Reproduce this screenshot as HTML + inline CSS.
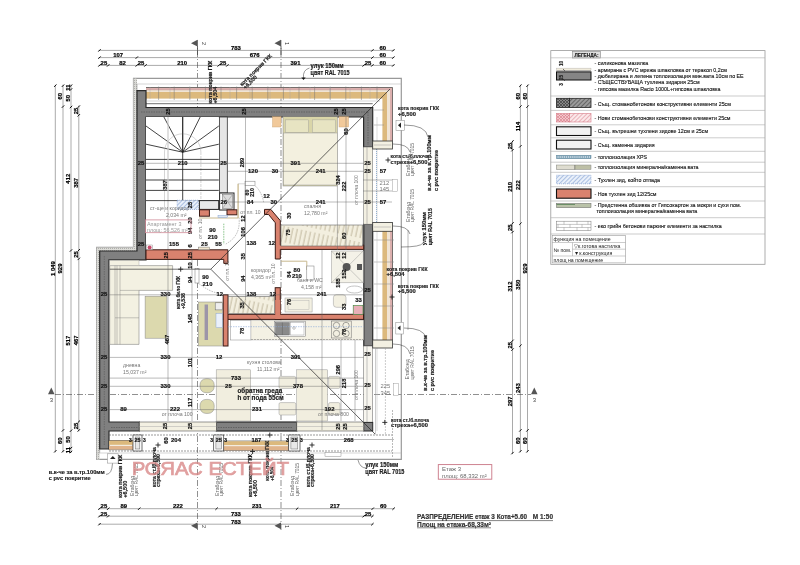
<!DOCTYPE html><html><head><meta charset="utf-8"><style>html,body{margin:0;padding:0;background:#fff;width:800px;height:565px;overflow:hidden}</style></head><body><svg width="800" height="565" viewBox="0 0 800 565" style="display:block;filter:blur(0.3px);font-family:'Liberation Sans',sans-serif">
<rect x="0.0" y="0.0" width="800.0" height="565.0" fill="#fff" stroke="none" stroke-width="1" />
<line x1="98.5" y1="50.4" x2="394.3" y2="50.4" stroke="#555" stroke-width="0.5" />
<line x1="98.3" y1="51.6" x2="100.7" y2="49.2" stroke="#111" stroke-width="1.0" />
<line x1="371.2" y1="51.6" x2="373.6" y2="49.2" stroke="#111" stroke-width="1.0" />
<line x1="392.1" y1="51.6" x2="394.5" y2="49.2" stroke="#111" stroke-width="1.0" />
<text x="235.9" y="49.7" font-size="5.9" fill="#000" font-weight="bold" text-anchor="middle" stroke="#000" stroke-width="0.2">783</text>
<text x="382.8" y="49.7" font-size="5.9" fill="#000" font-weight="bold" text-anchor="middle" stroke="#000" stroke-width="0.2">60</text>
<line x1="98.5" y1="57.6" x2="394.3" y2="57.6" stroke="#555" stroke-width="0.5" />
<line x1="98.3" y1="58.8" x2="100.7" y2="56.4" stroke="#111" stroke-width="1.0" />
<line x1="135.6" y1="58.8" x2="138.0" y2="56.4" stroke="#111" stroke-width="1.0" />
<line x1="371.2" y1="58.8" x2="373.6" y2="56.4" stroke="#111" stroke-width="1.0" />
<line x1="392.1" y1="58.8" x2="394.5" y2="56.4" stroke="#111" stroke-width="1.0" />
<text x="118.1" y="56.9" font-size="5.9" fill="#000" font-weight="bold" text-anchor="middle" stroke="#000" stroke-width="0.2">107</text>
<text x="254.6" y="56.9" font-size="5.9" fill="#000" font-weight="bold" text-anchor="middle" stroke="#000" stroke-width="0.2">676</text>
<text x="382.8" y="56.9" font-size="5.9" fill="#000" font-weight="bold" text-anchor="middle" stroke="#000" stroke-width="0.2">60</text>
<line x1="98.5" y1="65.4" x2="394.3" y2="65.4" stroke="#555" stroke-width="0.5" />
<line x1="98.3" y1="66.6" x2="100.7" y2="64.2" stroke="#111" stroke-width="1.0" />
<line x1="107.0" y1="66.6" x2="109.4" y2="64.2" stroke="#111" stroke-width="1.0" />
<line x1="135.6" y1="66.6" x2="138.0" y2="64.2" stroke="#111" stroke-width="1.0" />
<line x1="144.3" y1="66.6" x2="146.7" y2="64.2" stroke="#111" stroke-width="1.0" />
<line x1="217.5" y1="66.6" x2="219.9" y2="64.2" stroke="#111" stroke-width="1.0" />
<line x1="226.2" y1="66.6" x2="228.6" y2="64.2" stroke="#111" stroke-width="1.0" />
<line x1="362.5" y1="66.6" x2="364.9" y2="64.2" stroke="#111" stroke-width="1.0" />
<line x1="371.2" y1="66.6" x2="373.6" y2="64.2" stroke="#111" stroke-width="1.0" />
<line x1="392.1" y1="66.6" x2="394.5" y2="64.2" stroke="#111" stroke-width="1.0" />
<text x="103.9" y="64.7" font-size="5.9" fill="#000" font-weight="bold" text-anchor="middle" stroke="#000" stroke-width="0.2">25</text>
<text x="122.5" y="64.7" font-size="5.9" fill="#000" font-weight="bold" text-anchor="middle" stroke="#000" stroke-width="0.2">82</text>
<text x="141.1" y="64.7" font-size="5.9" fill="#000" font-weight="bold" text-anchor="middle" stroke="#000" stroke-width="0.2">25</text>
<text x="182.1" y="64.7" font-size="5.9" fill="#000" font-weight="bold" text-anchor="middle" stroke="#000" stroke-width="0.2">210</text>
<text x="223.0" y="64.7" font-size="5.9" fill="#000" font-weight="bold" text-anchor="middle" stroke="#000" stroke-width="0.2">25</text>
<text x="295.5" y="64.7" font-size="5.9" fill="#000" font-weight="bold" text-anchor="middle" stroke="#000" stroke-width="0.2">391</text>
<text x="368.0" y="64.7" font-size="5.9" fill="#000" font-weight="bold" text-anchor="middle" stroke="#000" stroke-width="0.2">25</text>
<text x="382.8" y="64.7" font-size="5.9" fill="#000" font-weight="bold" text-anchor="middle" stroke="#000" stroke-width="0.2">60</text>
<line x1="98.5" y1="508.7" x2="394.6" y2="508.7" stroke="#555" stroke-width="0.5" />
<line x1="98.3" y1="509.9" x2="100.7" y2="507.5" stroke="#111" stroke-width="1.0" />
<line x1="107.0" y1="509.9" x2="109.4" y2="507.5" stroke="#111" stroke-width="1.0" />
<line x1="138.0" y1="509.9" x2="140.4" y2="507.5" stroke="#111" stroke-width="1.0" />
<line x1="215.4" y1="509.9" x2="217.8" y2="507.5" stroke="#111" stroke-width="1.0" />
<line x1="295.9" y1="509.9" x2="298.3" y2="507.5" stroke="#111" stroke-width="1.0" />
<line x1="371.5" y1="509.9" x2="373.9" y2="507.5" stroke="#111" stroke-width="1.0" />
<line x1="392.4" y1="509.9" x2="394.8" y2="507.5" stroke="#111" stroke-width="1.0" />
<text x="103.9" y="508.0" font-size="5.9" fill="#000" font-weight="bold" text-anchor="middle" stroke="#000" stroke-width="0.2">25</text>
<text x="123.7" y="508.0" font-size="5.9" fill="#000" font-weight="bold" text-anchor="middle" stroke="#000" stroke-width="0.2">89</text>
<text x="177.9" y="508.0" font-size="5.9" fill="#000" font-weight="bold" text-anchor="middle" stroke="#000" stroke-width="0.2">222</text>
<text x="256.8" y="508.0" font-size="5.9" fill="#000" font-weight="bold" text-anchor="middle" stroke="#000" stroke-width="0.2">231</text>
<text x="334.9" y="508.0" font-size="5.9" fill="#000" font-weight="bold" text-anchor="middle" stroke="#000" stroke-width="0.2">217</text>
<text x="383.2" y="508.0" font-size="5.9" fill="#000" font-weight="bold" text-anchor="middle" stroke="#000" stroke-width="0.2">60</text>
<line x1="98.5" y1="516.2" x2="373.4" y2="516.2" stroke="#555" stroke-width="0.5" />
<line x1="98.3" y1="517.4" x2="100.7" y2="515.0" stroke="#111" stroke-width="1.0" />
<line x1="107.0" y1="517.4" x2="109.4" y2="515.0" stroke="#111" stroke-width="1.0" />
<line x1="362.5" y1="517.4" x2="364.9" y2="515.0" stroke="#111" stroke-width="1.0" />
<line x1="371.2" y1="517.4" x2="373.6" y2="515.0" stroke="#111" stroke-width="1.0" />
<text x="103.9" y="515.5" font-size="5.9" fill="#000" font-weight="bold" text-anchor="middle" stroke="#000" stroke-width="0.2">25</text>
<text x="235.9" y="515.5" font-size="5.9" fill="#000" font-weight="bold" text-anchor="middle" stroke="#000" stroke-width="0.2">733</text>
<text x="368.0" y="515.5" font-size="5.9" fill="#000" font-weight="bold" text-anchor="middle" stroke="#000" stroke-width="0.2">25</text>
<line x1="98.5" y1="524.2" x2="373.4" y2="524.2" stroke="#555" stroke-width="0.5" />
<line x1="98.3" y1="525.4" x2="100.7" y2="523.0" stroke="#111" stroke-width="1.0" />
<line x1="371.2" y1="525.4" x2="373.6" y2="523.0" stroke="#111" stroke-width="1.0" />
<text x="235.9" y="523.5" font-size="5.9" fill="#000" font-weight="bold" text-anchor="middle" stroke="#000" stroke-width="0.2">783</text>
<line x1="55.3" y1="84.7" x2="55.3" y2="452.3" stroke="#555" stroke-width="0.5" />
<line x1="54.1" y1="86.9" x2="56.5" y2="84.5" stroke="#111" stroke-width="1.0" />
<line x1="54.1" y1="452.5" x2="56.5" y2="450.1" stroke="#111" stroke-width="1.0" />
<text x="54.6" y="268.5" font-size="5.9" fill="#000" font-weight="bold" text-anchor="middle" transform="rotate(-90 54.6 268.5)" stroke="#000" stroke-width="0.2">1 049</text>
<line x1="63.0" y1="84.7" x2="63.0" y2="452.3" stroke="#555" stroke-width="0.5" />
<line x1="61.8" y1="86.9" x2="64.2" y2="84.5" stroke="#111" stroke-width="1.0" />
<line x1="61.8" y1="107.8" x2="64.2" y2="105.4" stroke="#111" stroke-width="1.0" />
<line x1="61.8" y1="431.6" x2="64.2" y2="429.2" stroke="#111" stroke-width="1.0" />
<line x1="61.8" y1="452.5" x2="64.2" y2="450.1" stroke="#111" stroke-width="1.0" />
<text x="62.3" y="96.2" font-size="5.9" fill="#000" font-weight="bold" text-anchor="middle" transform="rotate(-90 62.3 96.2)" stroke="#000" stroke-width="0.2">60</text>
<text x="62.3" y="268.5" font-size="5.9" fill="#000" font-weight="bold" text-anchor="middle" transform="rotate(-90 62.3 268.5)" stroke="#000" stroke-width="0.2">929</text>
<text x="62.3" y="440.8" font-size="5.9" fill="#000" font-weight="bold" text-anchor="middle" transform="rotate(-90 62.3 440.8)" stroke="#000" stroke-width="0.2">60</text>
<line x1="71.0" y1="84.7" x2="71.0" y2="453.0" stroke="#555" stroke-width="0.5" />
<line x1="69.8" y1="86.9" x2="72.2" y2="84.5" stroke="#111" stroke-width="1.0" />
<line x1="69.8" y1="90.7" x2="72.2" y2="88.3" stroke="#111" stroke-width="1.0" />
<line x1="69.8" y1="108.2" x2="72.2" y2="105.8" stroke="#111" stroke-width="1.0" />
<line x1="69.8" y1="251.7" x2="72.2" y2="249.3" stroke="#111" stroke-width="1.0" />
<line x1="69.8" y1="431.9" x2="72.2" y2="429.5" stroke="#111" stroke-width="1.0" />
<line x1="69.8" y1="449.3" x2="72.2" y2="446.9" stroke="#111" stroke-width="1.0" />
<line x1="69.8" y1="453.2" x2="72.2" y2="450.8" stroke="#111" stroke-width="1.0" />
<text x="70.3" y="87.6" font-size="5.9" fill="#000" font-weight="bold" text-anchor="middle" transform="rotate(-90 70.3 87.6)" stroke="#000" stroke-width="0.2">11</text>
<text x="70.3" y="98.2" font-size="5.9" fill="#000" font-weight="bold" text-anchor="middle" transform="rotate(-90 70.3 98.2)" stroke="#000" stroke-width="0.2">50</text>
<text x="70.3" y="178.7" font-size="5.9" fill="#000" font-weight="bold" text-anchor="middle" transform="rotate(-90 70.3 178.7)" stroke="#000" stroke-width="0.2">412</text>
<text x="70.3" y="340.6" font-size="5.9" fill="#000" font-weight="bold" text-anchor="middle" transform="rotate(-90 70.3 340.6)" stroke="#000" stroke-width="0.2">517</text>
<text x="70.3" y="439.4" font-size="5.9" fill="#000" font-weight="bold" text-anchor="middle" transform="rotate(-90 70.3 439.4)" stroke="#000" stroke-width="0.2">50</text>
<text x="70.3" y="450.1" font-size="5.9" fill="#000" font-weight="bold" text-anchor="middle" transform="rotate(-90 70.3 450.1)" stroke="#000" stroke-width="0.2">11</text>
<line x1="78.8" y1="105.6" x2="78.8" y2="431.4" stroke="#555" stroke-width="0.5" />
<line x1="77.6" y1="107.8" x2="80.0" y2="105.4" stroke="#111" stroke-width="1.0" />
<line x1="77.6" y1="116.5" x2="80.0" y2="114.1" stroke="#111" stroke-width="1.0" />
<line x1="77.6" y1="251.4" x2="80.0" y2="249.0" stroke="#111" stroke-width="1.0" />
<line x1="77.6" y1="260.1" x2="80.0" y2="257.7" stroke="#111" stroke-width="1.0" />
<line x1="77.6" y1="422.9" x2="80.0" y2="420.5" stroke="#111" stroke-width="1.0" />
<line x1="77.6" y1="431.6" x2="80.0" y2="429.2" stroke="#111" stroke-width="1.0" />
<text x="78.1" y="111.0" font-size="5.9" fill="#000" font-weight="bold" text-anchor="middle" transform="rotate(-90 78.1 111.0)" stroke="#000" stroke-width="0.2">25</text>
<text x="78.1" y="182.8" font-size="5.9" fill="#000" font-weight="bold" text-anchor="middle" transform="rotate(-90 78.1 182.8)" stroke="#000" stroke-width="0.2">387</text>
<text x="78.1" y="254.5" font-size="5.9" fill="#000" font-weight="bold" text-anchor="middle" transform="rotate(-90 78.1 254.5)" stroke="#000" stroke-width="0.2">25</text>
<text x="78.1" y="340.3" font-size="5.9" fill="#000" font-weight="bold" text-anchor="middle" transform="rotate(-90 78.1 340.3)" stroke="#000" stroke-width="0.2">467</text>
<text x="78.1" y="426.0" font-size="5.9" fill="#000" font-weight="bold" text-anchor="middle" transform="rotate(-90 78.1 426.0)" stroke="#000" stroke-width="0.2">25</text>
<line x1="527.5" y1="84.7" x2="527.5" y2="452.3" stroke="#555" stroke-width="0.5" />
<line x1="526.3" y1="86.9" x2="528.7" y2="84.5" stroke="#111" stroke-width="1.0" />
<line x1="526.3" y1="107.8" x2="528.7" y2="105.4" stroke="#111" stroke-width="1.0" />
<line x1="526.3" y1="431.6" x2="528.7" y2="429.2" stroke="#111" stroke-width="1.0" />
<line x1="526.3" y1="452.5" x2="528.7" y2="450.1" stroke="#111" stroke-width="1.0" />
<text x="526.8" y="96.2" font-size="5.9" fill="#000" font-weight="bold" text-anchor="middle" transform="rotate(-90 526.8 96.2)" stroke="#000" stroke-width="0.2">60</text>
<text x="526.8" y="268.5" font-size="5.9" fill="#000" font-weight="bold" text-anchor="middle" transform="rotate(-90 526.8 268.5)" stroke="#000" stroke-width="0.2">929</text>
<text x="526.8" y="440.8" font-size="5.9" fill="#000" font-weight="bold" text-anchor="middle" transform="rotate(-90 526.8 440.8)" stroke="#000" stroke-width="0.2">60</text>
<line x1="520.4" y1="84.7" x2="520.4" y2="452.3" stroke="#555" stroke-width="0.5" />
<line x1="519.2" y1="86.9" x2="521.6" y2="84.5" stroke="#111" stroke-width="1.0" />
<line x1="519.2" y1="107.8" x2="521.6" y2="105.4" stroke="#111" stroke-width="1.0" />
<line x1="519.2" y1="147.5" x2="521.6" y2="145.1" stroke="#111" stroke-width="1.0" />
<line x1="519.2" y1="224.9" x2="521.6" y2="222.5" stroke="#111" stroke-width="1.0" />
<line x1="519.2" y1="346.9" x2="521.6" y2="344.5" stroke="#111" stroke-width="1.0" />
<line x1="519.2" y1="431.6" x2="521.6" y2="429.2" stroke="#111" stroke-width="1.0" />
<line x1="519.2" y1="452.5" x2="521.6" y2="450.1" stroke="#111" stroke-width="1.0" />
<text x="519.7" y="96.2" font-size="5.9" fill="#000" font-weight="bold" text-anchor="middle" transform="rotate(-90 519.7 96.2)" stroke="#000" stroke-width="0.2">60</text>
<text x="519.7" y="126.5" font-size="5.9" fill="#000" font-weight="bold" text-anchor="middle" transform="rotate(-90 519.7 126.5)" stroke="#000" stroke-width="0.2">114</text>
<text x="519.7" y="185.0" font-size="5.9" fill="#000" font-weight="bold" text-anchor="middle" transform="rotate(-90 519.7 185.0)" stroke="#000" stroke-width="0.2">222</text>
<text x="519.7" y="284.7" font-size="5.9" fill="#000" font-weight="bold" text-anchor="middle" transform="rotate(-90 519.7 284.7)" stroke="#000" stroke-width="0.2">350</text>
<text x="519.7" y="388.0" font-size="5.9" fill="#000" font-weight="bold" text-anchor="middle" transform="rotate(-90 519.7 388.0)" stroke="#000" stroke-width="0.2">243</text>
<text x="519.7" y="440.8" font-size="5.9" fill="#000" font-weight="bold" text-anchor="middle" transform="rotate(-90 519.7 440.8)" stroke="#000" stroke-width="0.2">60</text>
<line x1="512.5" y1="140.5" x2="512.5" y2="454.1" stroke="#555" stroke-width="0.5" />
<line x1="511.3" y1="142.7" x2="513.7" y2="140.3" stroke="#111" stroke-width="1.0" />
<line x1="511.3" y1="151.4" x2="513.7" y2="149.0" stroke="#111" stroke-width="1.0" />
<line x1="511.3" y1="224.6" x2="513.7" y2="222.2" stroke="#111" stroke-width="1.0" />
<line x1="511.3" y1="233.3" x2="513.7" y2="230.9" stroke="#111" stroke-width="1.0" />
<line x1="511.3" y1="342.0" x2="513.7" y2="339.6" stroke="#111" stroke-width="1.0" />
<line x1="511.3" y1="350.8" x2="513.7" y2="348.4" stroke="#111" stroke-width="1.0" />
<line x1="511.3" y1="454.3" x2="513.7" y2="451.9" stroke="#111" stroke-width="1.0" />
<text x="511.8" y="145.9" font-size="5.9" fill="#000" font-weight="bold" text-anchor="middle" transform="rotate(-90 511.8 145.9)" stroke="#000" stroke-width="0.2">25</text>
<text x="511.8" y="186.8" font-size="5.9" fill="#000" font-weight="bold" text-anchor="middle" transform="rotate(-90 511.8 186.8)" stroke="#000" stroke-width="0.2">210</text>
<text x="511.8" y="227.8" font-size="5.9" fill="#000" font-weight="bold" text-anchor="middle" transform="rotate(-90 511.8 227.8)" stroke="#000" stroke-width="0.2">25</text>
<text x="511.8" y="286.5" font-size="5.9" fill="#000" font-weight="bold" text-anchor="middle" transform="rotate(-90 511.8 286.5)" stroke="#000" stroke-width="0.2">312</text>
<text x="511.8" y="345.2" font-size="5.9" fill="#000" font-weight="bold" text-anchor="middle" transform="rotate(-90 511.8 345.2)" stroke="#000" stroke-width="0.2">25</text>
<text x="511.8" y="401.3" font-size="5.9" fill="#000" font-weight="bold" text-anchor="middle" transform="rotate(-90 511.8 401.3)" stroke="#000" stroke-width="0.2">297</text>
<line x1="197.5" y1="40.0" x2="197.5" y2="530.0" stroke="#444" stroke-width="0.6" stroke-dasharray="6,2,1,2"/>
<polygon points="191.0,43.2 197.5,39.8 197.5,46.6" fill="#555" stroke="none" stroke-width="1" />
<polygon points="191.0,525.8 197.5,522.4 197.5,529.2" fill="#555" stroke="none" stroke-width="1" />
<line x1="197.5" y1="46.0" x2="197.5" y2="55.0" stroke="#444" stroke-width="0.8" />
<line x1="281.0" y1="40.0" x2="281.0" y2="530.0" stroke="#444" stroke-width="0.6" stroke-dasharray="6,2,1,2"/>
<polygon points="274.5,43.2 281.0,39.8 281.0,46.6" fill="#555" stroke="none" stroke-width="1" />
<polygon points="274.5,525.8 281.0,522.4 281.0,529.2" fill="#555" stroke="none" stroke-width="1" />
<line x1="281.0" y1="46.0" x2="281.0" y2="55.0" stroke="#444" stroke-width="0.8" />
<line x1="55.0" y1="394.5" x2="531.0" y2="394.5" stroke="#444" stroke-width="0.6" stroke-dasharray="6,2,1,2"/>
<polygon points="48.0,394.3 51.3,387.5 54.5,394.3" fill="#555" stroke="none" stroke-width="1" />
<polygon points="531.0,394.3 534.3,387.5 537.5,394.3" fill="#555" stroke="none" stroke-width="1" />
<text x="201.5" y="43.5" font-size="5.5" fill="#333" font-weight="normal" text-anchor="middle" transform="rotate(90 201.5 43.5)" >2</text>
<text x="201.5" y="526.5" font-size="5.5" fill="#333" font-weight="normal" text-anchor="middle" transform="rotate(90 201.5 526.5)" >2</text>
<text x="285.0" y="43.5" font-size="5.5" fill="#333" font-weight="normal" text-anchor="middle" transform="rotate(90 285.0 43.5)" >1</text>
<text x="285.0" y="526.5" font-size="5.5" fill="#333" font-weight="normal" text-anchor="middle" transform="rotate(90 285.0 526.5)" >1</text>
<text x="51.3" y="401.5" font-size="6" fill="#444" font-weight="normal" text-anchor="middle" >3</text>
<text x="534.3" y="401.5" font-size="6" fill="#444" font-weight="normal" text-anchor="middle" >3</text>
<polyline points="133.5,247.4 133.5,78.4 401.3,78.4 401.3,459.4 96.7,459.4 96.7,247.4 133.5,247.4" fill="none" stroke="#999" stroke-width="1.2" />
<defs><pattern id="dt" width="2" height="2" patternUnits="userSpaceOnUse"><rect width="2" height="2" fill="#dcdcd8"/><rect width="1" height="1" fill="#b0b0ac"/></pattern></defs>
<polygon points="133.5,78.4 137.0,78.4 137.0,251.0 99.7,251.0 99.7,459.4 96.7,459.4 96.7,247.4 133.5,247.4" fill="url(#dt)" stroke="none" stroke-width="1" />
<line x1="137.0" y1="84.0" x2="137.0" y2="251.0" stroke="#777" stroke-width="0.5" />
<line x1="99.7" y1="251.0" x2="99.7" y2="453.0" stroke="#777" stroke-width="0.5" />
<polygon points="146.0,87.5 392.5,87.5 392.5,141.0 382.5,141.0 382.5,98.4 146.0,98.4" fill="#f0e4d4" stroke="none" stroke-width="1" />
<polygon points="146.0,87.5 392.5,87.5 392.5,141.0 390.0,141.0 390.0,90.0 146.0,90.0" fill="#dcb0ae" stroke="none" stroke-width="1" />
<polygon points="146.0,92.0 387.0,92.0 387.0,141.0 382.5,141.0 382.5,98.4 146.0,98.4" fill="#dcb97d" stroke="none" stroke-width="1" />
<polyline points="146.0,87.5 392.5,87.5 392.5,141.0" fill="none" stroke="#444" stroke-width="0.7" />
<line x1="146.0" y1="90.0" x2="390.0" y2="90.0" stroke="#a88" stroke-width="0.3" />
<rect x="382.5" y="231.0" width="10.0" height="109.0" fill="#f0e4d4" stroke="none" stroke-width="1" />
<rect x="390.0" y="231.0" width="2.5" height="109.0" fill="#dcb0ae" stroke="none" stroke-width="1" />
<rect x="382.5" y="231.0" width="4.5" height="109.0" fill="#dcb97d" stroke="none" stroke-width="1" />
<line x1="392.5" y1="231.0" x2="392.5" y2="340.0" stroke="#444" stroke-width="0.7" />
<line x1="158.6" y1="86.5" x2="158.6" y2="100.0" stroke="#777" stroke-width="0.5" />
<line x1="174.2" y1="86.5" x2="174.2" y2="100.0" stroke="#777" stroke-width="0.5" />
<line x1="189.8" y1="86.5" x2="189.8" y2="100.0" stroke="#777" stroke-width="0.5" />
<line x1="205.4" y1="86.5" x2="205.4" y2="100.0" stroke="#777" stroke-width="0.5" />
<line x1="221.0" y1="86.5" x2="221.0" y2="100.0" stroke="#777" stroke-width="0.5" />
<line x1="236.6" y1="86.5" x2="236.6" y2="100.0" stroke="#777" stroke-width="0.5" />
<line x1="252.2" y1="86.5" x2="252.2" y2="100.0" stroke="#777" stroke-width="0.5" />
<line x1="267.8" y1="86.5" x2="267.8" y2="100.0" stroke="#777" stroke-width="0.5" />
<line x1="283.4" y1="86.5" x2="283.4" y2="100.0" stroke="#777" stroke-width="0.5" />
<line x1="299.0" y1="86.5" x2="299.0" y2="100.0" stroke="#777" stroke-width="0.5" />
<line x1="314.6" y1="86.5" x2="314.6" y2="100.0" stroke="#777" stroke-width="0.5" />
<line x1="330.2" y1="86.5" x2="330.2" y2="100.0" stroke="#777" stroke-width="0.5" />
<line x1="345.8" y1="86.5" x2="345.8" y2="100.0" stroke="#777" stroke-width="0.5" />
<line x1="361.4" y1="86.5" x2="361.4" y2="100.0" stroke="#777" stroke-width="0.5" />
<line x1="377.0" y1="86.5" x2="377.0" y2="100.0" stroke="#777" stroke-width="0.5" />
<line x1="374.0" y1="110.0" x2="384.0" y2="110.0" stroke="#888" stroke-width="0.5" />
<line x1="374.0" y1="125.0" x2="384.0" y2="125.0" stroke="#888" stroke-width="0.5" />
<line x1="374.0" y1="240.0" x2="394.0" y2="240.0" stroke="#888" stroke-width="0.5" />
<line x1="374.0" y1="262.0" x2="394.0" y2="262.0" stroke="#888" stroke-width="0.5" />
<line x1="374.0" y1="284.0" x2="394.0" y2="284.0" stroke="#888" stroke-width="0.5" />
<line x1="374.0" y1="306.0" x2="394.0" y2="306.0" stroke="#888" stroke-width="0.5" />
<line x1="374.0" y1="328.0" x2="394.0" y2="328.0" stroke="#888" stroke-width="0.5" />
<rect x="396.0" y="120.3" width="8.5" height="10.0" fill="#fff" stroke="#888" stroke-width="0.5" />
<polygon points="398.0,125.3 401.0,122.5 401.0,128.0" fill="#222" stroke="none" stroke-width="1" />
<rect x="109.0" y="440.0" width="23.0" height="5.0" fill="#e0b47a" stroke="none" stroke-width="1" />
<rect x="109.0" y="446.5" width="23.0" height="1.5" fill="#e4a5a0" stroke="none" stroke-width="1" />
<polygon points="137.0,90.6 146.0,90.6 146.0,107.5 372.7,107.5 372.7,147.0 363.6,147.0 363.6,117.0 146.0,117.0 146.0,259.8 109.0,259.8 109.0,422.0 139.4,422.0 139.4,431.0 109.0,431.0 109.0,449.0 99.7,449.0 99.7,251.0 137.0,251.0" fill="#808080" stroke="#2a2a2a" stroke-width="1.2" />
<rect x="216.4" y="422.0" width="80.4" height="9.0" fill="#808080" stroke="#2a2a2a" stroke-width="1.2" />
<line x1="218.0" y1="427.5" x2="292.0" y2="427.5" stroke="#444" stroke-width="0.5" stroke-dasharray="1.5,1"/>
<line x1="111.0" y1="427.5" x2="138.0" y2="427.5" stroke="#444" stroke-width="0.5" stroke-dasharray="1.5,1"/>
<line x1="141.0" y1="112.0" x2="368.0" y2="112.0" stroke="#444" stroke-width="0.5" stroke-dasharray="1.5,1"/>
<line x1="368.0" y1="112.0" x2="368.0" y2="145.0" stroke="#444" stroke-width="0.5" stroke-dasharray="1.5,1"/>
<line x1="368.0" y1="226.0" x2="368.0" y2="344.0" stroke="#4a6aa8" stroke-width="0.5" stroke-dasharray="1.5,1"/>
<line x1="104.3" y1="256.0" x2="104.3" y2="446.0" stroke="#444" stroke-width="0.4" stroke-dasharray="1.5,1"/>
<rect x="363.8" y="224.2" width="8.9" height="121.8" fill="#808080" stroke="#2a2a2a" stroke-width="1.2" />
<line x1="133.5" y1="84.0" x2="401.3" y2="84.0" stroke="#bbb" stroke-width="0.6" />
<line x1="146.0" y1="103.7" x2="372.7" y2="103.7" stroke="#333" stroke-width="0.7" />
<line x1="146.0" y1="101.0" x2="380.0" y2="101.0" stroke="#aaa" stroke-width="0.5" />
<line x1="150.0" y1="87.0" x2="150.0" y2="99.0" stroke="#aaa" stroke-width="0.4" />
<line x1="170.0" y1="87.0" x2="170.0" y2="99.0" stroke="#aaa" stroke-width="0.4" />
<line x1="190.0" y1="87.0" x2="190.0" y2="99.0" stroke="#aaa" stroke-width="0.4" />
<line x1="210.0" y1="87.0" x2="210.0" y2="99.0" stroke="#aaa" stroke-width="0.4" />
<line x1="230.0" y1="87.0" x2="230.0" y2="99.0" stroke="#aaa" stroke-width="0.4" />
<line x1="250.0" y1="87.0" x2="250.0" y2="99.0" stroke="#aaa" stroke-width="0.4" />
<line x1="270.0" y1="87.0" x2="270.0" y2="99.0" stroke="#aaa" stroke-width="0.4" />
<line x1="290.0" y1="87.0" x2="290.0" y2="99.0" stroke="#aaa" stroke-width="0.4" />
<line x1="310.0" y1="87.0" x2="310.0" y2="99.0" stroke="#aaa" stroke-width="0.4" />
<line x1="330.0" y1="87.0" x2="330.0" y2="99.0" stroke="#aaa" stroke-width="0.4" />
<line x1="350.0" y1="87.0" x2="350.0" y2="99.0" stroke="#aaa" stroke-width="0.4" />
<line x1="370.0" y1="87.0" x2="370.0" y2="99.0" stroke="#aaa" stroke-width="0.4" />
<line x1="377.0" y1="117.0" x2="377.0" y2="431.0" stroke="#bbb" stroke-width="0.5" />
<line x1="96.7" y1="453.0" x2="401.3" y2="453.0" stroke="#bbb" stroke-width="0.6" />
<line x1="109.0" y1="435.0" x2="392.0" y2="435.0" stroke="#555" stroke-width="0.6" stroke-dasharray="2,1"/>
<line x1="109.0" y1="451.0" x2="392.0" y2="451.0" stroke="#555" stroke-width="0.6" stroke-dasharray="2,1"/>
<rect x="363.7" y="147.0" width="9.0" height="77.2" fill="#f3f0e2" stroke="#777" stroke-width="0.6" />
<line x1="367.0" y1="147.0" x2="367.0" y2="224.2" stroke="#888" stroke-width="0.5" />
<line x1="376.5" y1="147.0" x2="376.5" y2="224.2" stroke="#7aa0c8" stroke-width="0.8" stroke-dasharray="1,1"/>
<rect x="372.7" y="141.0" width="19.8" height="8.0" fill="#f3f0e2" stroke="#333" stroke-width="0.8" />
<rect x="372.7" y="222.5" width="19.8" height="8.8" fill="#f3f0e2" stroke="#333" stroke-width="0.8" />
<line x1="374.0" y1="145.0" x2="391.0" y2="145.0" stroke="#999" stroke-width="0.5" />
<line x1="374.0" y1="227.0" x2="391.0" y2="227.0" stroke="#999" stroke-width="0.5" />
<rect x="363.7" y="346.0" width="9.0" height="76.4" fill="#f8f6ef" stroke="#777" stroke-width="0.6" />
<line x1="367.0" y1="346.0" x2="367.0" y2="422.0" stroke="#888" stroke-width="0.5" />
<rect x="372.7" y="340.0" width="19.8" height="8.0" fill="#f3f0e2" stroke="#333" stroke-width="0.8" />
<rect x="363.7" y="422.4" width="9.0" height="8.6" fill="#808080" stroke="#2a2a2a" stroke-width="1" />
<line x1="375.5" y1="348.0" x2="375.5" y2="434.6" stroke="#999" stroke-width="0.5" />
<line x1="385.4" y1="348.0" x2="385.4" y2="434.6" stroke="#999" stroke-width="0.5" stroke-dasharray="2,1"/>
<rect x="139.4" y="422.0" width="77.0" height="9.0" fill="#f3f0e2" stroke="#555" stroke-width="0.6" />
<line x1="139.4" y1="426.5" x2="216.4" y2="426.5" stroke="#aaa" stroke-width="0.5" />
<rect x="296.8" y="422.0" width="66.9" height="9.0" fill="#f3f0e2" stroke="#555" stroke-width="0.6" />
<line x1="296.8" y1="426.5" x2="363.7" y2="426.5" stroke="#aaa" stroke-width="0.5" />
<rect x="109.0" y="440.5" width="24.0" height="9.3" fill="#f3ece0" stroke="#444" stroke-width="0.6" />
<rect x="109.0" y="440.8" width="24.0" height="4.0" fill="#dcb97d" stroke="none" stroke-width="1" />
<rect x="109.0" y="446.0" width="24.0" height="3.5" fill="#e0b48c" stroke="none" stroke-width="1" />
<rect x="223.7" y="441.0" width="65.0" height="9.6" fill="#f3ece0" stroke="#444" stroke-width="0.6" />
<rect x="223.7" y="441.3" width="65.0" height="3.7" fill="#dcb97d" stroke="none" stroke-width="1" />
<rect x="223.7" y="446.2" width="65.0" height="4.1" fill="#e0b48c" stroke="none" stroke-width="1" />
<rect x="133.0" y="435.0" width="9.0" height="16.0" fill="#fff" stroke="#333" stroke-width="0.7" />
<rect x="135.2" y="437.0" width="4.6" height="12.0" fill="#e8e8e8" stroke="#666" stroke-width="0.5" />
<rect x="213.7" y="435.0" width="10.0" height="16.0" fill="#fff" stroke="#333" stroke-width="0.7" />
<rect x="215.9" y="437.0" width="5.6" height="12.0" fill="#e8e8e8" stroke="#666" stroke-width="0.5" />
<rect x="288.7" y="435.0" width="11.3" height="16.0" fill="#fff" stroke="#333" stroke-width="0.7" />
<rect x="290.9" y="437.0" width="6.9" height="12.0" fill="#e8e8e8" stroke="#666" stroke-width="0.5" />
<line x1="300.0" y1="439.5" x2="394.0" y2="439.5" stroke="#666" stroke-width="0.45" />
<rect x="325.0" y="452.5" width="16.0" height="3.8" fill="#fff" stroke="#777" stroke-width="0.4" />
<line x1="392.5" y1="410.0" x2="392.5" y2="457.5" stroke="#777" stroke-width="0.5" stroke-dasharray="2,1"/>
<rect x="146.0" y="117.0" width="72.8" height="133.2" fill="#fff" stroke="none" stroke-width="1" />
<rect x="219.6" y="117.0" width="7.7" height="76.0" fill="#e6e6e6" stroke="#333" stroke-width="0.8" />
<line x1="182.7" y1="152.2" x2="146.0" y2="126.0" stroke="#222" stroke-width="0.85" />
<line x1="182.7" y1="152.2" x2="146.0" y2="144.2" stroke="#222" stroke-width="0.85" />
<line x1="182.7" y1="152.2" x2="163.9" y2="117.0" stroke="#222" stroke-width="0.85" />
<line x1="182.7" y1="152.2" x2="182.7" y2="117.0" stroke="#222" stroke-width="0.85" />
<line x1="182.7" y1="152.2" x2="200.2" y2="117.0" stroke="#222" stroke-width="0.85" />
<line x1="182.7" y1="152.2" x2="218.8" y2="126.0" stroke="#222" stroke-width="0.85" />
<line x1="182.7" y1="152.2" x2="218.8" y2="144.2" stroke="#222" stroke-width="0.85" />
<path d="M164.5,152 A18.2,18.2 0 0 1 200.9,152" fill="none" stroke="#aaa" stroke-width="0.5"/>
<line x1="164.5" y1="152.0" x2="164.5" y2="212.0" stroke="#aaa" stroke-width="0.5" />
<line x1="200.9" y1="152.0" x2="200.9" y2="212.0" stroke="#aaa" stroke-width="0.5" stroke-dasharray="3,1"/>
<line x1="146.0" y1="159.4" x2="218.8" y2="159.4" stroke="#222" stroke-width="0.85" />
<line x1="146.0" y1="169.4" x2="218.8" y2="169.4" stroke="#222" stroke-width="0.85" />
<line x1="146.0" y1="180.0" x2="218.8" y2="180.0" stroke="#222" stroke-width="0.85" />
<line x1="146.0" y1="190.4" x2="218.8" y2="190.4" stroke="#222" stroke-width="0.85" />
<line x1="182.7" y1="117.0" x2="182.7" y2="200.6" stroke="#222" stroke-width="0.85" />
<line x1="168.0" y1="117.0" x2="168.0" y2="250.0" stroke="#ccc" stroke-width="1.2" />
<line x1="146.0" y1="200.6" x2="199.4" y2="200.6" stroke="#222" stroke-width="0.8" />
<defs><pattern id="hb" width="3" height="3" patternUnits="userSpaceOnUse" patternTransform="rotate(45)"><rect width="3" height="3" fill="#e9f0fa"/><line x1="0" y1="0" x2="0" y2="3" stroke="#6d8fc8" stroke-width="1"/></pattern><pattern id="hw" width="4.5" height="20" patternUnits="userSpaceOnUse" patternTransform="rotate(12)"><rect x="-1" y="-1" width="7" height="22" fill="#f3efdf"/><line x1="1" y1="2" x2="1" y2="18" stroke="#8a7d5a" stroke-width="0.5"/></pattern><pattern id="hp" width="3" height="3" patternUnits="userSpaceOnUse" patternTransform="rotate(45)"><rect width="3" height="3" fill="#fbe9ea"/><line x1="0" y1="0" x2="0" y2="3" stroke="#d77a86" stroke-width="1"/></pattern><pattern id="hd" width="3" height="3" patternUnits="userSpaceOnUse" patternTransform="rotate(45)"><rect width="3" height="3" fill="#9a9a9a"/><line x1="0" y1="0" x2="0" y2="3" stroke="#333" stroke-width="1"/></pattern><pattern id="hx" width="3" height="3" patternUnits="userSpaceOnUse"><rect width="3" height="3" fill="#888"/><path d="M0,0L3,3M3,0L0,3" stroke="#333" stroke-width="0.6"/></pattern><pattern id="hpx" width="3" height="3" patternUnits="userSpaceOnUse"><rect width="3" height="3" fill="#f3c6cc"/><path d="M0,0L3,3M3,0L0,3" stroke="#d77a86" stroke-width="0.6"/></pattern></defs>
<rect x="177.1" y="200.2" width="21.3" height="9.3" fill="url(#hb)" stroke="#6d8fc8" stroke-width="0.5" stroke-dasharray="1,1"/>
<rect x="199.4" y="200.6" width="19.3" height="8.8" fill="#e8e8e8" stroke="#222" stroke-width="1.0" />
<rect x="219.6" y="193.0" width="14.4" height="17.0" fill="#fff" stroke="#222" stroke-width="1.0" />
<rect x="222.5" y="194.5" width="10.0" height="14.0" fill="#ddd" stroke="#666" stroke-width="0.5" />
<line x1="222.5" y1="194.5" x2="232.5" y2="208.5" stroke="#777" stroke-width="0.4" />
<line x1="232.5" y1="194.5" x2="222.5" y2="208.5" stroke="#777" stroke-width="0.4" />
<rect x="199.5" y="209.8" width="9.9" height="6.4" fill="#d9826e" stroke="#3a1a14" stroke-width="1" />
<rect x="227.0" y="209.8" width="10.0" height="5.0" fill="#d9826e" stroke="#3a1a14" stroke-width="1" />
<polygon points="146.0,249.8 227.9,249.8 227.9,263.4 223.8,263.4 223.8,259.4 146.0,259.4" fill="#d9826e" stroke="#3a1a14" stroke-width="1" />
<rect x="198.3" y="247.1" width="11.2" height="2.7" fill="#f1e6cf" stroke="#777" stroke-width="0.5" />
<polygon points="264.5,209.4 270.8,209.4 280.3,220.6 280.3,245.1 363.7,245.1 363.7,249.4 280.3,249.4 280.3,259.0 275.3,259.0 275.3,222.8 268.6,214.5 264.5,214.5" fill="#d9826e" stroke="#3a1a14" stroke-width="1" />
<line x1="199.0" y1="218.0" x2="238.0" y2="218.0" stroke="#c9b98f" stroke-width="1.0" />
<rect x="275.2" y="287.7" width="5.1" height="31.9" fill="#d9826e" stroke="#3a1a14" stroke-width="1" />
<rect x="223.2" y="314.3" width="140.3" height="5.1" fill="#d9826e" stroke="#3a1a14" stroke-width="1" />
<rect x="223.2" y="294.8" width="4.8" height="51.2" fill="#d9826e" stroke="#3a1a14" stroke-width="1" />
<rect x="275.2" y="300.0" width="5.1" height="19.0" fill="#d9826e" stroke="none" stroke-width="1" />
<path d="M225.8,244 Q241,236 239,217.6" fill="none" stroke="#777" stroke-width="0.5" stroke-dasharray="1.5,1"/>
<line x1="223.8" y1="223.7" x2="223.8" y2="244.1" stroke="#3a9a3a" stroke-width="0.6" stroke-dasharray="1.5,1"/>
<rect x="195.0" y="268.5" width="4.0" height="14.5" fill="#fff" stroke="#777" stroke-width="0.5" />
<path d="M198.4,283.3 Q210,292 217.9,293" fill="none" stroke="#777" stroke-width="0.5" stroke-dasharray="1.5,1"/>
<rect x="245.0" y="181.2" width="10.0" height="4.3" fill="#fff" stroke="#777" stroke-width="0.5" />
<path d="M255,185.6 Q262,192 263.75,203" fill="none" stroke="#777" stroke-width="0.5" stroke-dasharray="1.5,1"/>
<line x1="238.1" y1="183.8" x2="238.1" y2="218.0" stroke="#c9b98f" stroke-width="1.3" />
<line x1="238.1" y1="183.8" x2="245.0" y2="183.8" stroke="#999" stroke-width="0.4" />
<line x1="245.0" y1="185.0" x2="245.0" y2="230.0" stroke="#777" stroke-width="0.4" />
<text x="249.0" y="192.5" font-size="5.2" fill="#111" font-weight="bold" text-anchor="middle" transform="rotate(-90 249.0 192.5)"  stroke="#111" stroke-width="0.18">80</text>
<text x="254.4" y="192.5" font-size="5.2" fill="#111" font-weight="bold" text-anchor="middle" transform="rotate(-90 254.4 192.5)"  stroke="#111" stroke-width="0.18">210</text>
<rect x="218.0" y="215.6" width="9.5" height="1.9" fill="#dfe9f5" stroke="#6d8fc8" stroke-width="0.4" />
<rect x="272.5" y="116.7" width="8.5" height="10.3" fill="#f1c99a" stroke="#c9a070" stroke-width="0.4" />
<rect x="339.0" y="116.7" width="9.6" height="10.3" fill="#f1c99a" stroke="#c9a070" stroke-width="0.4" />
<rect x="283.0" y="116.7" width="54.4" height="69.3" fill="#d9d5a8" stroke="#888" stroke-width="0.5" />
<rect x="285.3" y="119.9" width="23.1" height="12.4" fill="#e7e4c2" stroke="#999" stroke-width="0.4" />
<rect x="312.4" y="119.9" width="23.1" height="12.4" fill="#e7e4c2" stroke="#999" stroke-width="0.4" />
<rect x="283.7" y="133.0" width="53.7" height="52.0" fill="#f3f0df" stroke="#999" stroke-width="0.5" />
<rect x="281.0" y="225.0" width="81.7" height="21.0" fill="url(#hw)" stroke="#666" stroke-width="0.6" />
<rect x="228.5" y="296.6" width="46.0" height="17.0" fill="url(#hw)" stroke="#666" stroke-width="0.6" />
<polygon points="109.7,265.6 172.6,265.6 172.6,290.4 139.0,290.4 139.0,344.4 109.7,344.4" fill="#f3f1e2" stroke="#888" stroke-width="0.6" />
<rect x="109.7" y="260.3" width="29.3" height="5.3" fill="#f3f1e2" stroke="#999" stroke-width="0.4" />
<line x1="115.0" y1="265.6" x2="115.0" y2="344.4" stroke="#777" stroke-width="0.4" />
<line x1="117.0" y1="265.6" x2="117.0" y2="344.4" stroke="#777" stroke-width="0.4" />
<line x1="120.0" y1="265.6" x2="120.0" y2="344.4" stroke="#777" stroke-width="0.4" />
<line x1="109.7" y1="269.2" x2="210.8" y2="269.2" stroke="#333" stroke-width="0.7" />
<line x1="115.0" y1="317.8" x2="139.0" y2="317.8" stroke="#777" stroke-width="0.4" />
<line x1="120.0" y1="290.4" x2="139.0" y2="290.4" stroke="#777" stroke-width="0.4" />
<rect x="145.1" y="296.2" width="21.8" height="42.0" fill="#dcd9ae" stroke="#888" stroke-width="0.5" />
<rect x="198.4" y="302.0" width="23.9" height="44.0" fill="#dcd9ae" stroke="#888" stroke-width="0.5" />
<rect x="204.6" y="304.5" width="3.4" height="35.5" fill="#9c95a8" stroke="none" stroke-width="1" />
<rect x="215.2" y="302.8" width="7.1" height="7.1" fill="#eee" stroke="#666" stroke-width="0.5" />
<rect x="216.0" y="313.4" width="6.3" height="14.2" fill="#eaf0fb" stroke="#7a9ad0" stroke-width="0.4" />
<rect x="230.3" y="320.3" width="20.7" height="19.7" fill="#fff" stroke="#888" stroke-width="0.5" />
<rect x="251.0" y="320.3" width="112.5" height="19.7" fill="#f4f1e4" stroke="#aaa" stroke-width="0.4" />
<rect x="274.4" y="321.2" width="30.9" height="15.0" fill="#fff" stroke="#777" stroke-width="0.5" />
<rect x="275.5" y="322.5" width="13.9" height="12.5" fill="#8a8a8a" stroke="#555" stroke-width="0.4" />
<line x1="282.4" y1="322.5" x2="282.4" y2="335.0" stroke="#555" stroke-width="0.4" />
<rect x="290.5" y="322.5" width="13.5" height="12.5" fill="#fff" stroke="#888" stroke-width="0.4" />
<circle cx="294" cy="328" r="1.3" fill="none" stroke="#666" stroke-width="0.4"/>
<rect x="331.6" y="321.0" width="19.6" height="17.0" fill="#f3f0e2" stroke="#666" stroke-width="0.5" />
<circle cx="336.5" cy="325.5" r="3.2" fill="none" stroke="#555" stroke-width="0.5"/>
<circle cx="346" cy="325.5" r="3.2" fill="none" stroke="#555" stroke-width="0.5"/>
<circle cx="336.5" cy="333.5" r="3.2" fill="none" stroke="#555" stroke-width="0.5"/>
<circle cx="346" cy="333.5" r="3.2" fill="none" stroke="#555" stroke-width="0.5"/>
<line x1="251.0" y1="339.5" x2="363.5" y2="339.5" stroke="#777" stroke-width="0.5" stroke-dasharray="2,1"/>
<line x1="228.0" y1="326.7" x2="363.5" y2="326.7" stroke="#8aa8d8" stroke-width="0.6" stroke-dasharray="1.5,1"/>
<rect x="331.4" y="251.0" width="31.8" height="31.8" fill="#f4f2e8" stroke="#999" stroke-width="0.5" />
<line x1="331.4" y1="251.0" x2="363.2" y2="282.8" stroke="#888" stroke-width="0.4" />
<line x1="363.2" y1="251.0" x2="331.4" y2="282.8" stroke="#888" stroke-width="0.4" />
<circle cx="346.6" cy="266.9" r="4" fill="#555"/>
<rect x="357.0" y="264.0" width="5.0" height="6.0" fill="#555" stroke="none" stroke-width="1" />
<ellipse cx="354.5" cy="289.5" rx="8" ry="3.5" fill="#fff" stroke="#888" stroke-width="0.5"/>
<rect x="333.4" y="294.7" width="12.6" height="12.6" fill="#f3f0e2" stroke="#999" stroke-width="0.5" rx="3"/>
<rect x="285.0" y="298.0" width="27.1" height="14.0" fill="#f3f0e2" stroke="#999" stroke-width="0.5" />
<rect x="288.0" y="300.5" width="21.0" height="9.0" fill="none" stroke="#aaa" stroke-width="0.4" />
<rect x="353.2" y="305.3" width="9.8" height="9.3" fill="#e8b0b8" stroke="#3a8a3a" stroke-width="0.6" />
<polyline points="281.0,261.2 306.8,261.2 306.8,270.0" fill="none" stroke="#c9b98f" stroke-width="1" />
<rect x="306.8" y="266.0" width="7.2" height="14.0" fill="#fff" stroke="#777" stroke-width="0.5" />
<rect x="216.2" y="369.8" width="34.5" height="51.2" fill="#f1eedf" stroke="#999" stroke-width="0.5" />
<rect x="296.7" y="369.8" width="31.0" height="51.2" fill="#f1eedf" stroke="#999" stroke-width="0.5" />
<rect x="279.0" y="376.4" width="16.8" height="12.0" fill="#f1eedf" stroke="#999" stroke-width="0.5" rx="1.5"/>
<rect x="279.0" y="402.6" width="16.8" height="12.4" fill="#f1eedf" stroke="#999" stroke-width="0.5" rx="1.5"/>
<rect x="328.6" y="376.4" width="11.4" height="12.0" fill="#f1eedf" stroke="#999" stroke-width="0.5" rx="1.5"/>
<rect x="328.6" y="402.6" width="11.4" height="12.4" fill="#f1eedf" stroke="#999" stroke-width="0.5" rx="1.5"/>
<rect x="200" y="378.7" width="14.2" height="14" rx="6" fill="#dcd9ae" stroke="#888" stroke-width="0.5"/>
<rect x="200" y="399.4" width="14.2" height="14" rx="6" fill="#dcd9ae" stroke="#888" stroke-width="0.5"/>
<line x1="390.0" y1="89.0" x2="210.8" y2="269.2" stroke="#222" stroke-width="0.7" />
<line x1="210.8" y1="269.2" x2="375.0" y2="434.0" stroke="#222" stroke-width="0.7" />
<line x1="146.0" y1="163.3" x2="363.6" y2="163.3" stroke="#666" stroke-width="0.45" />
<line x1="227.3" y1="171.3" x2="363.6" y2="171.3" stroke="#666" stroke-width="0.45" />
<line x1="109.0" y1="294.8" x2="363.6" y2="294.8" stroke="#666" stroke-width="0.45" />
<line x1="109.0" y1="357.4" x2="363.6" y2="357.4" stroke="#666" stroke-width="0.45" />
<line x1="109.0" y1="378.1" x2="363.6" y2="378.1" stroke="#666" stroke-width="0.45" />
<line x1="109.0" y1="386.3" x2="363.6" y2="386.3" stroke="#666" stroke-width="0.45" />
<line x1="109.0" y1="409.6" x2="363.6" y2="409.6" stroke="#666" stroke-width="0.45" />
<line x1="228.0" y1="202.0" x2="392.0" y2="202.0" stroke="#666" stroke-width="0.45" />
<line x1="363.0" y1="180.0" x2="392.0" y2="180.0" stroke="#666" stroke-width="0.45" />
<line x1="363.0" y1="191.0" x2="392.0" y2="191.0" stroke="#666" stroke-width="0.45" />
<line x1="245.5" y1="117.0" x2="245.5" y2="300.0" stroke="#666" stroke-width="0.45" />
<line x1="168.0" y1="260.0" x2="168.0" y2="421.0" stroke="#666" stroke-width="0.45" />
<line x1="192.0" y1="250.0" x2="192.0" y2="421.0" stroke="#666" stroke-width="0.45" />
<line x1="337.4" y1="186.0" x2="337.4" y2="250.0" stroke="#666" stroke-width="0.45" />
<line x1="346.0" y1="117.0" x2="346.0" y2="250.0" stroke="#666" stroke-width="0.45" />
<line x1="322.0" y1="250.0" x2="322.0" y2="430.0" stroke="#666" stroke-width="0.45" />
<line x1="341.0" y1="340.0" x2="341.0" y2="421.0" stroke="#666" stroke-width="0.45" />
<line x1="355.0" y1="340.0" x2="355.0" y2="421.0" stroke="#666" stroke-width="0.45" />
<line x1="408.0" y1="230.0" x2="408.0" y2="330.0" stroke="#666" stroke-width="0.45" />
<text x="141.0" y="164.9" font-size="5.9" fill="#111" font-weight="bold" text-anchor="middle"  stroke="#111" stroke-width="0.18">25</text>
<text x="182.7" y="164.9" font-size="5.9" fill="#111" font-weight="bold" text-anchor="middle"  stroke="#111" stroke-width="0.18">210</text>
<text x="223.5" y="164.9" font-size="5.9" fill="#111" font-weight="bold" text-anchor="middle"  stroke="#111" stroke-width="0.18">25</text>
<text x="295.5" y="164.9" font-size="5.9" fill="#111" font-weight="bold" text-anchor="middle"  stroke="#111" stroke-width="0.18">391</text>
<text x="367.5" y="164.9" font-size="5.9" fill="#111" font-weight="bold" text-anchor="middle"  stroke="#111" stroke-width="0.18">25</text>
<text x="253.0" y="172.9" font-size="5.9" fill="#111" font-weight="bold" text-anchor="middle"  stroke="#111" stroke-width="0.18">120</text>
<text x="275.0" y="172.9" font-size="5.9" fill="#111" font-weight="bold" text-anchor="middle"  stroke="#111" stroke-width="0.18">30</text>
<text x="320.7" y="172.9" font-size="5.9" fill="#111" font-weight="bold" text-anchor="middle"  stroke="#111" stroke-width="0.18">241</text>
<text x="367.5" y="172.9" font-size="5.9" fill="#111" font-weight="bold" text-anchor="middle"  stroke="#111" stroke-width="0.18">25</text>
<text x="383.0" y="172.9" font-size="5.9" fill="#111" font-weight="bold" text-anchor="middle"  stroke="#111" stroke-width="0.18">57</text>
<text x="223.8" y="203.6" font-size="5.9" fill="#111" font-weight="bold" text-anchor="middle"  stroke="#111" stroke-width="0.18">26</text>
<text x="250.3" y="203.6" font-size="5.9" fill="#111" font-weight="bold" text-anchor="middle"  stroke="#111" stroke-width="0.18">84</text>
<text x="273.7" y="203.6" font-size="5.9" fill="#111" font-weight="bold" text-anchor="middle"  stroke="#111" stroke-width="0.18">30</text>
<text x="320.7" y="203.6" font-size="5.9" fill="#111" font-weight="bold" text-anchor="middle"  stroke="#111" stroke-width="0.18">241</text>
<text x="367.5" y="203.6" font-size="5.9" fill="#111" font-weight="bold" text-anchor="middle"  stroke="#111" stroke-width="0.18">25</text>
<text x="383.0" y="203.6" font-size="5.9" fill="#111" font-weight="bold" text-anchor="middle"  stroke="#111" stroke-width="0.18">57</text>
<text x="266.6" y="198.1" font-size="5.9" fill="#111" font-weight="bold" text-anchor="middle"  stroke="#111" stroke-width="0.18">12</text>
<text x="212.6" y="232.1" font-size="5.9" fill="#111" font-weight="bold" text-anchor="middle"  stroke="#111" stroke-width="0.18">90</text>
<text x="212.6" y="239.1" font-size="5.9" fill="#111" font-weight="bold" text-anchor="middle"  stroke="#111" stroke-width="0.18">210</text>
<text x="141.0" y="245.6" font-size="5.9" fill="#111" font-weight="bold" text-anchor="middle"  stroke="#111" stroke-width="0.18">25</text>
<text x="174.0" y="245.6" font-size="5.9" fill="#111" font-weight="bold" text-anchor="middle"  stroke="#111" stroke-width="0.18">155</text>
<text x="204.4" y="245.6" font-size="5.9" fill="#111" font-weight="bold" text-anchor="middle"  stroke="#111" stroke-width="0.18">25</text>
<text x="218.6" y="245.6" font-size="5.9" fill="#111" font-weight="bold" text-anchor="middle"  stroke="#111" stroke-width="0.18">55</text>
<text x="251.3" y="244.6" font-size="5.9" fill="#111" font-weight="bold" text-anchor="middle"  stroke="#111" stroke-width="0.18">138</text>
<text x="271.7" y="244.6" font-size="5.9" fill="#111" font-weight="bold" text-anchor="middle"  stroke="#111" stroke-width="0.18">12</text>
<text x="205.5" y="279.1" font-size="5.9" fill="#111" font-weight="bold" text-anchor="middle"  stroke="#111" stroke-width="0.18">90</text>
<text x="207.5" y="286.1" font-size="5.9" fill="#111" font-weight="bold" text-anchor="middle"  stroke="#111" stroke-width="0.18">210</text>
<text x="296.9" y="271.8" font-size="5.9" fill="#111" font-weight="bold" text-anchor="middle"  stroke="#111" stroke-width="0.18">80</text>
<text x="296.9" y="278.4" font-size="5.9" fill="#111" font-weight="bold" text-anchor="middle"  stroke="#111" stroke-width="0.18">210</text>
<text x="104.0" y="296.4" font-size="5.9" fill="#111" font-weight="bold" text-anchor="middle"  stroke="#111" stroke-width="0.18">25</text>
<text x="165.5" y="296.4" font-size="5.9" fill="#111" font-weight="bold" text-anchor="middle"  stroke="#111" stroke-width="0.18">330</text>
<text x="219.7" y="295.9" font-size="5.9" fill="#111" font-weight="bold" text-anchor="middle"  stroke="#111" stroke-width="0.18">12</text>
<text x="251.3" y="295.9" font-size="5.9" fill="#111" font-weight="bold" text-anchor="middle"  stroke="#111" stroke-width="0.18">138</text>
<text x="272.7" y="295.9" font-size="5.9" fill="#111" font-weight="bold" text-anchor="middle"  stroke="#111" stroke-width="0.18">12</text>
<text x="321.6" y="295.9" font-size="5.9" fill="#111" font-weight="bold" text-anchor="middle"  stroke="#111" stroke-width="0.18">241</text>
<text x="367.6" y="291.6" font-size="5.9" fill="#111" font-weight="bold" text-anchor="middle"  stroke="#111" stroke-width="0.18">25</text>
<text x="104.0" y="359.0" font-size="5.9" fill="#111" font-weight="bold" text-anchor="middle"  stroke="#111" stroke-width="0.18">25</text>
<text x="165.5" y="359.0" font-size="5.9" fill="#111" font-weight="bold" text-anchor="middle"  stroke="#111" stroke-width="0.18">330</text>
<text x="219.0" y="359.0" font-size="5.9" fill="#111" font-weight="bold" text-anchor="middle"  stroke="#111" stroke-width="0.18">12</text>
<text x="295.6" y="359.0" font-size="5.9" fill="#111" font-weight="bold" text-anchor="middle"  stroke="#111" stroke-width="0.18">391</text>
<text x="367.6" y="356.1" font-size="5.9" fill="#111" font-weight="bold" text-anchor="middle"  stroke="#111" stroke-width="0.18">25</text>
<text x="104.0" y="387.9" font-size="5.9" fill="#111" font-weight="bold" text-anchor="middle"  stroke="#111" stroke-width="0.18">25</text>
<text x="165.5" y="387.9" font-size="5.9" fill="#111" font-weight="bold" text-anchor="middle"  stroke="#111" stroke-width="0.18">330</text>
<text x="228.4" y="387.9" font-size="5.9" fill="#111" font-weight="bold" text-anchor="middle"  stroke="#111" stroke-width="0.18">25</text>
<text x="298.0" y="387.9" font-size="5.9" fill="#111" font-weight="bold" text-anchor="middle"  stroke="#111" stroke-width="0.18">378</text>
<text x="367.6" y="386.6" font-size="5.9" fill="#111" font-weight="bold" text-anchor="middle"  stroke="#111" stroke-width="0.18">25</text>
<text x="236.0" y="379.7" font-size="5.9" fill="#111" font-weight="bold" text-anchor="middle"  stroke="#111" stroke-width="0.18">733</text>
<text x="104.0" y="411.2" font-size="5.9" fill="#111" font-weight="bold" text-anchor="middle"  stroke="#111" stroke-width="0.18">25</text>
<text x="123.6" y="411.2" font-size="5.9" fill="#111" font-weight="bold" text-anchor="middle"  stroke="#111" stroke-width="0.18">89</text>
<text x="175.0" y="411.2" font-size="5.9" fill="#111" font-weight="bold" text-anchor="middle"  stroke="#111" stroke-width="0.18">222</text>
<text x="257.0" y="411.2" font-size="5.9" fill="#111" font-weight="bold" text-anchor="middle"  stroke="#111" stroke-width="0.18">231</text>
<text x="329.5" y="411.2" font-size="5.9" fill="#111" font-weight="bold" text-anchor="middle"  stroke="#111" stroke-width="0.18">192</text>
<text x="367.6" y="409.6" font-size="5.9" fill="#111" font-weight="bold" text-anchor="middle"  stroke="#111" stroke-width="0.18">25</text>
<text x="358.6" y="301.6" font-size="5.9" fill="#111" font-weight="bold" text-anchor="middle"  stroke="#111" stroke-width="0.18">33</text>
<text x="176.0" y="441.6" font-size="5.9" fill="#111" font-weight="bold" text-anchor="middle"  stroke="#111" stroke-width="0.18">204</text>
<text x="256.3" y="441.6" font-size="5.9" fill="#111" font-weight="bold" text-anchor="middle"  stroke="#111" stroke-width="0.18">187</text>
<text x="348.7" y="441.6" font-size="5.9" fill="#111" font-weight="bold" text-anchor="middle"  stroke="#111" stroke-width="0.18">268</text>
<text x="137.5" y="441.6" font-size="5.5" fill="#111" font-weight="bold" text-anchor="middle"  stroke="#111" stroke-width="0.18">25</text>
<text x="130.5" y="441.6" font-size="5" fill="#111" font-weight="bold" text-anchor="middle"  stroke="#111" stroke-width="0.18">3</text>
<text x="144.5" y="441.6" font-size="5" fill="#111" font-weight="bold" text-anchor="middle"  stroke="#111" stroke-width="0.18">3</text>
<text x="218.7" y="441.6" font-size="5.5" fill="#111" font-weight="bold" text-anchor="middle"  stroke="#111" stroke-width="0.18">25</text>
<text x="211.7" y="441.6" font-size="5" fill="#111" font-weight="bold" text-anchor="middle"  stroke="#111" stroke-width="0.18">3</text>
<text x="225.7" y="441.6" font-size="5" fill="#111" font-weight="bold" text-anchor="middle"  stroke="#111" stroke-width="0.18">3</text>
<text x="294.4" y="441.6" font-size="5.5" fill="#111" font-weight="bold" text-anchor="middle"  stroke="#111" stroke-width="0.18">25</text>
<text x="287.4" y="441.6" font-size="5" fill="#111" font-weight="bold" text-anchor="middle"  stroke="#111" stroke-width="0.18">3</text>
<text x="301.4" y="441.6" font-size="5" fill="#111" font-weight="bold" text-anchor="middle"  stroke="#111" stroke-width="0.18">3</text>
<text x="384.4" y="184.5" font-size="5.8" fill="#777" font-weight="normal" text-anchor="middle" >212</text>
<text x="384.4" y="191.0" font-size="5.8" fill="#777" font-weight="normal" text-anchor="middle" >145</text>
<rect x="392.4" y="179.5" width="5.0" height="12.0" fill="#fff" stroke="#888" stroke-width="0.4" />
<text x="385.4" y="388.4" font-size="5.8" fill="#777" font-weight="normal" text-anchor="middle" >225</text>
<text x="385.4" y="394.9" font-size="5.8" fill="#777" font-weight="normal" text-anchor="middle" >345</text>
<rect x="393.4" y="383.4" width="5.0" height="12.0" fill="#fff" stroke="#888" stroke-width="0.4" />
<text x="244.4" y="162.5" font-size="5.7" fill="#111" font-weight="bold" text-anchor="middle" transform="rotate(-90 244.4 162.5)"  stroke="#111" stroke-width="0.18">269</text>
<text x="166.6" y="185.0" font-size="5.7" fill="#111" font-weight="bold" text-anchor="middle" transform="rotate(-90 166.6 185.0)"  stroke="#111" stroke-width="0.18">387</text>
<text x="347.5" y="131.5" font-size="5.7" fill="#111" font-weight="bold" text-anchor="middle" transform="rotate(-90 347.5 131.5)"  stroke="#111" stroke-width="0.18">60</text>
<text x="339.5" y="180.0" font-size="5.7" fill="#111" font-weight="bold" text-anchor="middle" transform="rotate(-90 339.5 180.0)"  stroke="#111" stroke-width="0.18">324</text>
<text x="345.9" y="186.4" font-size="5.7" fill="#111" font-weight="bold" text-anchor="middle" transform="rotate(-90 345.9 186.4)"  stroke="#111" stroke-width="0.18">222</text>
<text x="289.6" y="232.5" font-size="5.7" fill="#111" font-weight="bold" text-anchor="middle" transform="rotate(-90 289.6 232.5)"  stroke="#111" stroke-width="0.18">75</text>
<text x="346.3" y="235.7" font-size="5.7" fill="#111" font-weight="bold" text-anchor="middle" transform="rotate(-90 346.3 235.7)"  stroke="#111" stroke-width="0.18">60</text>
<text x="291.4" y="215.7" font-size="5.7" fill="#111" font-weight="bold" text-anchor="middle" transform="rotate(-90 291.4 215.7)"  stroke="#111" stroke-width="0.18">30</text>
<text x="340.1" y="255.5" font-size="5.7" fill="#111" font-weight="bold" text-anchor="middle" transform="rotate(-90 340.1 255.5)"  stroke="#111" stroke-width="0.18">12</text>
<text x="346.3" y="255.5" font-size="5.7" fill="#111" font-weight="bold" text-anchor="middle" transform="rotate(-90 346.3 255.5)"  stroke="#111" stroke-width="0.18">12</text>
<text x="346.3" y="274.0" font-size="5.7" fill="#111" font-weight="bold" text-anchor="middle" transform="rotate(-90 346.3 274.0)"  stroke="#111" stroke-width="0.18">152</text>
<text x="340.1" y="283.0" font-size="5.7" fill="#111" font-weight="bold" text-anchor="middle" transform="rotate(-90 340.1 283.0)"  stroke="#111" stroke-width="0.18">185</text>
<text x="290.6" y="274.5" font-size="5.7" fill="#111" font-weight="bold" text-anchor="middle" transform="rotate(-90 290.6 274.5)"  stroke="#111" stroke-width="0.18">84</text>
<text x="245.5" y="256.3" font-size="5.7" fill="#111" font-weight="bold" text-anchor="middle" transform="rotate(-90 245.5 256.3)"  stroke="#111" stroke-width="0.18">35</text>
<text x="245.2" y="278.7" font-size="5.7" fill="#111" font-weight="bold" text-anchor="middle" transform="rotate(-90 245.2 278.7)"  stroke="#111" stroke-width="0.18">94</text>
<text x="245.2" y="218.6" font-size="5.7" fill="#111" font-weight="bold" text-anchor="middle" transform="rotate(-90 245.2 218.6)"  stroke="#111" stroke-width="0.18">12</text>
<text x="245.2" y="231.9" font-size="5.7" fill="#111" font-weight="bold" text-anchor="middle" transform="rotate(-90 245.2 231.9)"  stroke="#111" stroke-width="0.18">106</text>
<text x="192.3" y="230.8" font-size="5.7" fill="#111" font-weight="bold" text-anchor="middle" transform="rotate(-90 192.3 230.8)"  stroke="#111" stroke-width="0.18">94</text>
<text x="192.3" y="220.6" font-size="5.7" fill="#111" font-weight="bold" text-anchor="middle" transform="rotate(-90 192.3 220.6)"  stroke="#111" stroke-width="0.18">20</text>
<text x="192.3" y="246.0" font-size="5.7" fill="#111" font-weight="bold" text-anchor="middle" transform="rotate(-90 192.3 246.0)"  stroke="#111" stroke-width="0.18">6</text>
<text x="192.3" y="255.3" font-size="5.7" fill="#111" font-weight="bold" text-anchor="middle" transform="rotate(-90 192.3 255.3)"  stroke="#111" stroke-width="0.18">25</text>
<text x="192.3" y="265.5" font-size="5.7" fill="#111" font-weight="bold" text-anchor="middle" transform="rotate(-90 192.3 265.5)"  stroke="#111" stroke-width="0.18">10</text>
<text x="192.3" y="279.7" font-size="5.7" fill="#111" font-weight="bold" text-anchor="middle" transform="rotate(-90 192.3 279.7)"  stroke="#111" stroke-width="0.18">94</text>
<text x="168.3" y="255.2" font-size="5.7" fill="#111" font-weight="bold" text-anchor="middle" transform="rotate(-90 168.3 255.2)"  stroke="#111" stroke-width="0.18">25</text>
<text x="168.6" y="339.6" font-size="5.7" fill="#111" font-weight="bold" text-anchor="middle" transform="rotate(-90 168.6 339.6)"  stroke="#111" stroke-width="0.18">467</text>
<text x="191.6" y="318.6" font-size="5.7" fill="#111" font-weight="bold" text-anchor="middle" transform="rotate(-90 191.6 318.6)"  stroke="#111" stroke-width="0.18">145</text>
<text x="192.4" y="362.5" font-size="5.7" fill="#111" font-weight="bold" text-anchor="middle" transform="rotate(-90 192.4 362.5)"  stroke="#111" stroke-width="0.18">101</text>
<text x="192.4" y="402.5" font-size="5.7" fill="#111" font-weight="bold" text-anchor="middle" transform="rotate(-90 192.4 402.5)"  stroke="#111" stroke-width="0.18">117</text>
<text x="291.0" y="302.0" font-size="5.7" fill="#111" font-weight="bold" text-anchor="middle" transform="rotate(-90 291.0 302.0)"  stroke="#111" stroke-width="0.18">76</text>
<text x="346.1" y="306.7" font-size="5.7" fill="#111" font-weight="bold" text-anchor="middle" transform="rotate(-90 346.1 306.7)"  stroke="#111" stroke-width="0.18">33</text>
<text x="345.6" y="332.0" font-size="5.7" fill="#111" font-weight="bold" text-anchor="middle" transform="rotate(-90 345.6 332.0)"  stroke="#111" stroke-width="0.18">78</text>
<text x="244.4" y="331.0" font-size="5.7" fill="#111" font-weight="bold" text-anchor="middle" transform="rotate(-90 244.4 331.0)"  stroke="#111" stroke-width="0.18">78</text>
<text x="244.4" y="305.4" font-size="5.7" fill="#111" font-weight="bold" text-anchor="middle" transform="rotate(-90 244.4 305.4)"  stroke="#111" stroke-width="0.18">35</text>
<text x="340.1" y="369.7" font-size="5.7" fill="#111" font-weight="bold" text-anchor="middle" transform="rotate(-90 340.1 369.7)"  stroke="#111" stroke-width="0.18">296</text>
<text x="346.0" y="383.4" font-size="5.7" fill="#111" font-weight="bold" text-anchor="middle" transform="rotate(-90 346.0 383.4)"  stroke="#111" stroke-width="0.18">218</text>
<text x="167.1" y="426.0" font-size="5.7" fill="#111" font-weight="bold" text-anchor="middle" transform="rotate(-90 167.1 426.0)"  stroke="#111" stroke-width="0.18">25</text>
<text x="192.1" y="426.0" font-size="5.7" fill="#111" font-weight="bold" text-anchor="middle" transform="rotate(-90 192.1 426.0)"  stroke="#111" stroke-width="0.18">25</text>
<text x="339.5" y="426.5" font-size="5.7" fill="#111" font-weight="bold" text-anchor="middle" transform="rotate(-90 339.5 426.5)"  stroke="#111" stroke-width="0.18">25</text>
<text x="346.6" y="426.5" font-size="5.7" fill="#111" font-weight="bold" text-anchor="middle" transform="rotate(-90 346.6 426.5)"  stroke="#111" stroke-width="0.18">25</text>
<text x="167.7" y="440.6" font-size="5.7" fill="#111" font-weight="bold" text-anchor="middle" transform="rotate(-90 167.7 440.6)"  stroke="#111" stroke-width="0.18">60</text>
<text x="192.1" y="205.0" font-size="5.7" fill="#111" font-weight="bold" text-anchor="middle" transform="rotate(-90 192.1 205.0)"  stroke="#111" stroke-width="0.18">25</text>
<text x="169.6" y="111.5" font-size="5.7" fill="#111" font-weight="bold" text-anchor="middle" transform="rotate(-90 169.6 111.5)"  stroke="#111" stroke-width="0.18">25</text>
<text x="245.8" y="111.5" font-size="5.7" fill="#111" font-weight="bold" text-anchor="middle" transform="rotate(-90 245.8 111.5)"  stroke="#111" stroke-width="0.18">25</text>
<text x="338.4" y="111.5" font-size="5.7" fill="#111" font-weight="bold" text-anchor="middle" transform="rotate(-90 338.4 111.5)"  stroke="#111" stroke-width="0.18">25</text>
<text x="345.9" y="111.5" font-size="5.7" fill="#111" font-weight="bold" text-anchor="middle" transform="rotate(-90 345.9 111.5)"  stroke="#111" stroke-width="0.18">25</text>
<text x="202.4" y="228.8" font-size="5.0" fill="#777" font-weight="normal" text-anchor="middle" transform="rotate(-90 202.4 228.8)" >от пл. 10</text>
<text x="228.9" y="270.6" font-size="5.0" fill="#777" font-weight="normal" text-anchor="middle" transform="rotate(-90 228.9 270.6)" >от пл. 10</text>
<text x="274.7" y="273.6" font-size="5.0" fill="#777" font-weight="normal" text-anchor="middle" transform="rotate(-90 274.7 273.6)" >от пл. 10</text>
<text x="250.5" y="214.0" font-size="5.0" fill="#777" font-weight="normal" text-anchor="middle" >от пл. 10</text>
<text x="150.0" y="210.0" font-size="5.2" fill="#777" font-weight="normal" text-anchor="start" >ст-ще и коридор</text>
<text x="166.0" y="216.5" font-size="5.2" fill="#777" font-weight="normal" text-anchor="start" >2,034 m²</text>
<rect x="145.5" y="219.9" width="45.5" height="12.8" fill="none" stroke="#d08a98" stroke-width="0.8" />
<rect x="146.5" y="245" width="6" height="4.6" fill="#fff" stroke="#777" stroke-width="0.4"/><circle cx="149.6" cy="247.4" r="2" fill="#c84a6a"/>
<text x="147.0" y="226.0" font-size="5.4" fill="#999" font-weight="normal" text-anchor="start" >Апартамент 3</text>
<text x="147.0" y="232.0" font-size="5.4" fill="#999" font-weight="normal" text-anchor="start" >площ: 56,526 m²</text>
<text x="304.0" y="208.0" font-size="5.2" fill="#777" font-weight="normal" text-anchor="start" >спалня</text>
<text x="304.0" y="214.5" font-size="5.2" fill="#777" font-weight="normal" text-anchor="start" >12,780 m²</text>
<text x="251.0" y="272.0" font-size="5.2" fill="#777" font-weight="normal" text-anchor="start" >коридор</text>
<text x="251.0" y="278.5" font-size="5.2" fill="#777" font-weight="normal" text-anchor="start" >4,365 m²</text>
<text x="297.0" y="282.0" font-size="5.2" fill="#777" font-weight="normal" text-anchor="start" >баня и WC</text>
<text x="301.0" y="288.5" font-size="5.2" fill="#777" font-weight="normal" text-anchor="start" >4,158 m²</text>
<text x="123.0" y="367.0" font-size="5.2" fill="#777" font-weight="normal" text-anchor="start" >дневна</text>
<text x="123.0" y="373.5" font-size="5.2" fill="#777" font-weight="normal" text-anchor="start" >15,037 m²</text>
<text x="247.0" y="364.0" font-size="5.2" fill="#777" font-weight="normal" text-anchor="start" >кухня столова</text>
<text x="257.0" y="370.5" font-size="5.2" fill="#777" font-weight="normal" text-anchor="start" >11,112 m²</text>
<text x="237.5" y="393.0" font-size="6.3" fill="#222" font-weight="bold" text-anchor="start"  stroke="#222" stroke-width="0.18">обратна греда</text>
<text x="237.5" y="399.5" font-size="6.3" fill="#222" font-weight="bold" text-anchor="start"  stroke="#222" stroke-width="0.18">h от пода 55см</text>
<text x="161.7" y="416.0" font-size="5.2" fill="#777" font-weight="normal" text-anchor="start" >от плоча 100</text>
<text x="318.0" y="416.0" font-size="5.2" fill="#777" font-weight="normal" text-anchor="start" >от плоча 800</text>
<text x="358.3" y="205.0" font-size="5.0" fill="#777" font-weight="normal" text-anchor="start" transform="rotate(-90 358.3 205.0)" >от плоча 100</text>
<text x="358.0" y="400.0" font-size="5.0" fill="#777" font-weight="normal" text-anchor="start" transform="rotate(-90 358.0 400.0)" >от плоча 100</text>
<text x="398.0" y="110.0" font-size="5.9" fill="#222" font-weight="bold" text-anchor="start"  textLength="41" lengthAdjust="spacingAndGlyphs" stroke="#222" stroke-width="0.18">кота покрив ГКК</text>
<text x="398.0" y="115.5" font-size="5.9" fill="#222" font-weight="bold" text-anchor="start"  textLength="18" lengthAdjust="spacingAndGlyphs" stroke="#222" stroke-width="0.18">+6,500</text>
<text x="390.5" y="158.0" font-size="5.9" fill="#222" font-weight="bold" text-anchor="start"  textLength="38" lengthAdjust="spacingAndGlyphs" stroke="#222" stroke-width="0.18">кота ст./б.плоча</text>
<text x="390.5" y="163.5" font-size="5.9" fill="#222" font-weight="bold" text-anchor="start"  textLength="37" lengthAdjust="spacingAndGlyphs" stroke="#222" stroke-width="0.18">стреха+6,500</text>
<text x="386.5" y="270.8" font-size="5.9" fill="#222" font-weight="bold" text-anchor="start"  textLength="41" lengthAdjust="spacingAndGlyphs" stroke="#222" stroke-width="0.18">кота покрив ГКК</text>
<text x="386.5" y="276.2" font-size="5.9" fill="#222" font-weight="bold" text-anchor="start"  textLength="18" lengthAdjust="spacingAndGlyphs" stroke="#222" stroke-width="0.18">+6,504</text>
<text x="397.8" y="287.6" font-size="5.9" fill="#222" font-weight="bold" text-anchor="start"  textLength="41" lengthAdjust="spacingAndGlyphs" stroke="#222" stroke-width="0.18">кота покрив ГКК</text>
<text x="397.8" y="293.0" font-size="5.9" fill="#222" font-weight="bold" text-anchor="start"  textLength="18" lengthAdjust="spacingAndGlyphs" stroke="#222" stroke-width="0.18">+6,500</text>
<text x="391.0" y="422.0" font-size="5.9" fill="#222" font-weight="bold" text-anchor="start"  textLength="38" lengthAdjust="spacingAndGlyphs" stroke="#222" stroke-width="0.18">кота ст./б.плоча</text>
<text x="391.0" y="427.2" font-size="5.9" fill="#222" font-weight="bold" text-anchor="start"  textLength="37" lengthAdjust="spacingAndGlyphs" stroke="#222" stroke-width="0.18">стреха+6,500</text>
<text x="310.6" y="68.4" font-size="6.3" fill="#222" font-weight="bold" text-anchor="start"  textLength="33" lengthAdjust="spacingAndGlyphs" stroke="#222" stroke-width="0.18">улук 150мм</text>
<text x="310.6" y="74.6" font-size="6.3" fill="#222" font-weight="bold" text-anchor="start"  textLength="39" lengthAdjust="spacingAndGlyphs" stroke="#222" stroke-width="0.18">цвят RAL 7015</text>
<text x="365.3" y="467.0" font-size="6.3" fill="#222" font-weight="bold" text-anchor="start"  textLength="33" lengthAdjust="spacingAndGlyphs" stroke="#222" stroke-width="0.18">улук 150мм</text>
<text x="365.3" y="473.5" font-size="6.3" fill="#222" font-weight="bold" text-anchor="start"  textLength="39" lengthAdjust="spacingAndGlyphs" stroke="#222" stroke-width="0.18">цвят RAL 7015</text>
<text x="48.7" y="473.8" font-size="6.0" fill="#222" font-weight="bold" text-anchor="start"  textLength="56" lengthAdjust="spacingAndGlyphs" stroke="#222" stroke-width="0.18">в.к-че за в.тр.100мм</text>
<text x="48.7" y="479.6" font-size="6.0" fill="#222" font-weight="bold" text-anchor="start"  textLength="42" lengthAdjust="spacingAndGlyphs" stroke="#222" stroke-width="0.18">с рvс покритие</text>
<text x="430.5" y="191.0" font-size="5.9" fill="#222" font-weight="bold" text-anchor="start" transform="rotate(-90 430.5 191.0)"  textLength="56" lengthAdjust="spacingAndGlyphs" stroke="#222" stroke-width="0.18">в.к-че за в.тр.100мм</text>
<text x="437.7" y="191.0" font-size="5.9" fill="#222" font-weight="bold" text-anchor="start" transform="rotate(-90 437.7 191.0)"  textLength="41" lengthAdjust="spacingAndGlyphs" stroke="#222" stroke-width="0.18">с рvс покритие</text>
<text x="426.0" y="245.2" font-size="5.9" fill="#222" font-weight="bold" text-anchor="start" transform="rotate(-90 426.0 245.2)"  textLength="33" lengthAdjust="spacingAndGlyphs" stroke="#222" stroke-width="0.18">улук 150мм</text>
<text x="431.8" y="245.2" font-size="5.9" fill="#222" font-weight="bold" text-anchor="start" transform="rotate(-90 431.8 245.2)"  textLength="37" lengthAdjust="spacingAndGlyphs" stroke="#222" stroke-width="0.18">цвят RAL 7015</text>
<text x="426.8" y="391.0" font-size="5.9" fill="#222" font-weight="bold" text-anchor="start" transform="rotate(-90 426.8 391.0)"  textLength="56" lengthAdjust="spacingAndGlyphs" stroke="#222" stroke-width="0.18">в.к-че за в.тр.100мм</text>
<text x="434.0" y="391.0" font-size="5.9" fill="#222" font-weight="bold" text-anchor="start" transform="rotate(-90 434.0 391.0)"  textLength="41" lengthAdjust="spacingAndGlyphs" stroke="#222" stroke-width="0.18">с рvс покритие</text>
<text x="409.7" y="176.0" font-size="5.3" fill="#666" font-weight="normal" text-anchor="start" transform="rotate(-90 409.7 176.0)"  textLength="20" lengthAdjust="spacingAndGlyphs">Етабонд</text>
<text x="414.3" y="176.0" font-size="5.3" fill="#666" font-weight="normal" text-anchor="start" transform="rotate(-90 414.3 176.0)"  textLength="33" lengthAdjust="spacingAndGlyphs">цвят RAL 7015</text>
<text x="409.7" y="222.0" font-size="5.3" fill="#666" font-weight="normal" text-anchor="start" transform="rotate(-90 409.7 222.0)"  textLength="20" lengthAdjust="spacingAndGlyphs">Етабонд</text>
<text x="414.3" y="222.0" font-size="5.3" fill="#666" font-weight="normal" text-anchor="start" transform="rotate(-90 414.3 222.0)"  textLength="33" lengthAdjust="spacingAndGlyphs">цвят RAL 7015</text>
<text x="409.0" y="379.4" font-size="5.3" fill="#666" font-weight="normal" text-anchor="start" transform="rotate(-90 409.0 379.4)"  textLength="20" lengthAdjust="spacingAndGlyphs">Етабонд</text>
<text x="413.6" y="379.4" font-size="5.3" fill="#666" font-weight="normal" text-anchor="start" transform="rotate(-90 413.6 379.4)"  textLength="33" lengthAdjust="spacingAndGlyphs">цвят RAL 7015</text>
<text x="133.5" y="496.0" font-size="5.3" fill="#666" font-weight="normal" text-anchor="start" transform="rotate(-90 133.5 496.0)"  textLength="20" lengthAdjust="spacingAndGlyphs">Етабонд</text>
<text x="138.1" y="496.0" font-size="5.3" fill="#666" font-weight="normal" text-anchor="start" transform="rotate(-90 138.1 496.0)"  textLength="33" lengthAdjust="spacingAndGlyphs">цвят RAL 7015</text>
<text x="218.5" y="496.0" font-size="5.3" fill="#666" font-weight="normal" text-anchor="start" transform="rotate(-90 218.5 496.0)"  textLength="20" lengthAdjust="spacingAndGlyphs">Етабонд</text>
<text x="223.1" y="496.0" font-size="5.3" fill="#666" font-weight="normal" text-anchor="start" transform="rotate(-90 223.1 496.0)"  textLength="33" lengthAdjust="spacingAndGlyphs">цвят RAL 7015</text>
<text x="294.0" y="496.0" font-size="5.3" fill="#666" font-weight="normal" text-anchor="start" transform="rotate(-90 294.0 496.0)"  textLength="20" lengthAdjust="spacingAndGlyphs">Етабонд</text>
<text x="298.6" y="496.0" font-size="5.3" fill="#666" font-weight="normal" text-anchor="start" transform="rotate(-90 298.6 496.0)"  textLength="33" lengthAdjust="spacingAndGlyphs">цвят RAL 7015</text>
<text x="122.3" y="497.7" font-size="5.4" fill="#222" font-weight="bold" text-anchor="start" transform="rotate(-90 122.3 497.7)"  textLength="43" lengthAdjust="spacingAndGlyphs" stroke="#222" stroke-width="0.18">кота покрив ГКК</text>
<text x="127.1" y="497.7" font-size="5.4" fill="#222" font-weight="bold" text-anchor="start" transform="rotate(-90 127.1 497.7)"  textLength="17" lengthAdjust="spacingAndGlyphs" stroke="#222" stroke-width="0.18">+6,500</text>
<text x="155.5" y="487.0" font-size="5.4" fill="#222" font-weight="bold" text-anchor="start" transform="rotate(-90 155.5 487.0)"  textLength="40" lengthAdjust="spacingAndGlyphs" stroke="#222" stroke-width="0.18">кота ст./б.плоча</text>
<text x="160.3" y="487.0" font-size="5.4" fill="#222" font-weight="bold" text-anchor="start" transform="rotate(-90 160.3 487.0)"  textLength="33" lengthAdjust="spacingAndGlyphs" stroke="#222" stroke-width="0.18">стреха+6,500</text>
<text x="252.0" y="497.0" font-size="5.4" fill="#222" font-weight="bold" text-anchor="start" transform="rotate(-90 252.0 497.0)"  textLength="43" lengthAdjust="spacingAndGlyphs" stroke="#222" stroke-width="0.18">кота покрив ГКК</text>
<text x="256.8" y="497.0" font-size="5.4" fill="#222" font-weight="bold" text-anchor="start" transform="rotate(-90 256.8 497.0)"  textLength="17" lengthAdjust="spacingAndGlyphs" stroke="#222" stroke-width="0.18">+6,500</text>
<text x="269.5" y="480.7" font-size="5.4" fill="#222" font-weight="bold" text-anchor="start" transform="rotate(-90 269.5 480.7)"  textLength="40" lengthAdjust="spacingAndGlyphs" stroke="#222" stroke-width="0.18">кота покрив ГКК</text>
<text x="274.3" y="480.7" font-size="5.4" fill="#222" font-weight="bold" text-anchor="start" transform="rotate(-90 274.3 480.7)"  textLength="14" lengthAdjust="spacingAndGlyphs" stroke="#222" stroke-width="0.18">+6,504</text>
<text x="309.5" y="487.0" font-size="5.4" fill="#222" font-weight="bold" text-anchor="start" transform="rotate(-90 309.5 487.0)"  textLength="40" lengthAdjust="spacingAndGlyphs" stroke="#222" stroke-width="0.18">кота ст./б.плоча</text>
<text x="314.3" y="487.0" font-size="5.4" fill="#222" font-weight="bold" text-anchor="start" transform="rotate(-90 314.3 487.0)"  textLength="33" lengthAdjust="spacingAndGlyphs" stroke="#222" stroke-width="0.18">стреха+6,500</text>
<rect x="107.5" y="453.8" width="10.6" height="9.3" fill="#fff" stroke="#888" stroke-width="0.5" />
<polygon points="110.0,459.0 112.8,456.0 115.6,459.0" fill="#222" stroke="none" stroke-width="1" />
<path d="M106,474.4 q6,0 6.5,-11" fill="none" stroke="#333" stroke-width="0.5"/>
<text x="212.0" y="103.6" font-size="5.4" fill="#222" font-weight="bold" text-anchor="start" transform="rotate(-90 212.0 103.6)"  textLength="43" lengthAdjust="spacingAndGlyphs" stroke="#222" stroke-width="0.18">кота покрив ГКК</text>
<text x="216.6" y="103.6" font-size="5.4" fill="#222" font-weight="bold" text-anchor="start" transform="rotate(-90 216.6 103.6)"  textLength="17" lengthAdjust="spacingAndGlyphs" stroke="#222" stroke-width="0.18">+6,504</text>
<text x="242.0" y="86.5" font-size="5.4" fill="#222" font-weight="bold" text-anchor="start" transform="rotate(-45 242.0 86.5)"  textLength="43" lengthAdjust="spacingAndGlyphs" stroke="#222" stroke-width="0.18">кота покрив ГКК</text>
<text x="245.5" y="89.5" font-size="5.4" fill="#222" font-weight="bold" text-anchor="start" transform="rotate(-45 245.5 89.5)"  textLength="17" lengthAdjust="spacingAndGlyphs" stroke="#222" stroke-width="0.18">+6,500</text>
<text x="180.0" y="309.0" font-size="5.6" fill="#222" font-weight="bold" text-anchor="start" transform="rotate(-90 180.0 309.0)"  textLength="33" lengthAdjust="spacingAndGlyphs" stroke="#222" stroke-width="0.18">кота било ГКК</text>
<text x="184.6" y="309.0" font-size="5.6" fill="#222" font-weight="bold" text-anchor="start" transform="rotate(-90 184.6 309.0)"  textLength="16" lengthAdjust="spacingAndGlyphs" stroke="#222" stroke-width="0.18">+9,538</text>
<path d="M178.2,269.2 h5 M180.7,266.7 v5" stroke="#222" stroke-width="0.9"/>
<path d="M303.5,78 q-1,-8 6,-10" fill="none" stroke="#333" stroke-width="0.5"/>
<polygon points="301.3,77.5 305.7,77.5 303.5,80.0" fill="#111" stroke="none" stroke-width="1" />
<path d="M404,125 q22,0 24,12" fill="none" stroke="#333" stroke-width="0.5"/>
<path d="M393,144 q15,0 17,8" fill="none" stroke="#333" stroke-width="0.5"/>
<path d="M393,226 q15,0 17,8" fill="none" stroke="#333" stroke-width="0.5"/>
<path d="M401,247 q20,0 22,-4" fill="none" stroke="#333" stroke-width="0.5"/>
<path d="M404,328 q20,0 22,10" fill="none" stroke="#333" stroke-width="0.5"/>
<path d="M393,344 q15,0 17,10" fill="none" stroke="#333" stroke-width="0.5"/>
<path d="M358,460 q2,8 8,8" fill="none" stroke="#333" stroke-width="0.5"/>
<rect x="395.8" y="322.3" width="7.7" height="11.7" fill="#fff" stroke="#888" stroke-width="0.5" />
<polygon points="397.5,328.0 400.5,325.5 400.5,330.5" fill="#222" stroke="none" stroke-width="1" />
<path d="M385.5,160 h5 M388,157.5 v5" stroke="#222" stroke-width="0.9"/>
<path d="M389.5,297 h5 M392,294.5 v5" stroke="#222" stroke-width="0.9"/>
<path d="M382.3,422.4 h5 M384.8,419.9 v5" stroke="#222" stroke-width="0.9"/>
<path d="M250.1,451.5 h5 M252.6,449.0 v5" stroke="#222" stroke-width="0.9"/>
<path d="M267.3,435 h5 M269.8,432.5 v5" stroke="#222" stroke-width="0.9"/>
<path d="M155.5,445 h5 M158,442.5 v5" stroke="#222" stroke-width="0.9"/>
<path d="M309.5,445 h5 M312,442.5 v5" stroke="#222" stroke-width="0.9"/>
<text x="131.7" y="475.0" font-size="18.5" fill="#d98888" font-weight="normal" text-anchor="start" opacity="0.8" stroke="#d98888" stroke-width="0.7" textLength="157.5" lengthAdjust="spacingAndGlyphs">РОЯАС ЕСТЕЙТ</text>
<rect x="438.3" y="464.6" width="53.5" height="14.6" fill="#fff" stroke="#c97585" stroke-width="0.9" />
<text x="442.0" y="470.9" font-size="6.0" fill="#666" font-weight="normal" text-anchor="start" >Етаж 3</text>
<text x="442.0" y="477.8" font-size="6.0" fill="#666" font-weight="normal" text-anchor="start"  textLength="44.6" lengthAdjust="spacingAndGlyphs">площ: 68,332 m²</text>
<text x="417.0" y="519.3" font-size="6.6" fill="#333" font-weight="bold" text-anchor="start"  textLength="110" lengthAdjust="spacingAndGlyphs" stroke="#333" stroke-width="0.18">РАЗПРЕДЕЛЕНИЕ етаж 3 Кота+5.60</text>
<text x="532.8" y="519.3" font-size="6.6" fill="#333" font-weight="bold" text-anchor="start"  textLength="20.2" lengthAdjust="spacingAndGlyphs" stroke="#333" stroke-width="0.18">М 1:50</text>
<line x1="417.0" y1="520.6" x2="553.0" y2="520.6" stroke="#333" stroke-width="0.6" />
<text x="417.0" y="526.5" font-size="6.6" fill="#333" font-weight="bold" text-anchor="start" textLength="74" lengthAdjust="spacingAndGlyphs" stroke="#333" stroke-width="0.18">Площ на етажа-68,33м²</text>
<line x1="417.0" y1="527.8" x2="491.0" y2="527.8" stroke="#333" stroke-width="0.6" />
<rect x="550.8" y="50.6" width="214.2" height="213.7" fill="#fff" stroke="#999" stroke-width="0.8" />
<rect x="572.5" y="51.3" width="28.1" height="6.7" fill="#e0e0e0" stroke="#888" stroke-width="0.6" />
<text x="586.5" y="56.6" font-size="5.2" fill="#222" font-weight="bold" text-anchor="middle"  textLength="24" lengthAdjust="spacingAndGlyphs" stroke="#222" stroke-width="0.18">ЛЕГЕНДА:</text>
<line x1="550.8" y1="57.8" x2="765.0" y2="57.8" stroke="#aaa" stroke-width="0.6" />
<line x1="550.8" y1="96.0" x2="765.0" y2="96.0" stroke="#aaa" stroke-width="0.6" />
<line x1="550.8" y1="110.4" x2="765.0" y2="110.4" stroke="#aaa" stroke-width="0.6" />
<line x1="550.8" y1="124.8" x2="765.0" y2="124.8" stroke="#aaa" stroke-width="0.6" />
<line x1="550.8" y1="137.8" x2="765.0" y2="137.8" stroke="#aaa" stroke-width="0.6" />
<line x1="550.8" y1="151.3" x2="765.0" y2="151.3" stroke="#aaa" stroke-width="0.6" />
<line x1="550.8" y1="162.2" x2="765.0" y2="162.2" stroke="#aaa" stroke-width="0.6" />
<line x1="550.8" y1="172.3" x2="765.0" y2="172.3" stroke="#aaa" stroke-width="0.6" />
<line x1="550.8" y1="186.7" x2="765.0" y2="186.7" stroke="#aaa" stroke-width="0.6" />
<line x1="550.8" y1="201.0" x2="765.0" y2="201.0" stroke="#aaa" stroke-width="0.6" />
<line x1="550.8" y1="217.7" x2="765.0" y2="217.7" stroke="#aaa" stroke-width="0.6" />
<line x1="550.8" y1="234.0" x2="765.0" y2="234.0" stroke="#aaa" stroke-width="0.6" />
<rect x="556.5" y="68.1" width="34.5" height="2.5" fill="#f1ecdc" stroke="#999" stroke-width="0.3" />
<rect x="556.5" y="71.9" width="34.5" height="8.1" fill="#858585" stroke="#111" stroke-width="1.0" />
<line x1="556.5" y1="70.8" x2="591.0" y2="70.8" stroke="#555" stroke-width="0.4" />
<text x="562.5" y="63.5" font-size="4.6" fill="#222" font-weight="bold" text-anchor="middle" transform="rotate(-90 562.5 63.5)"  stroke="#222" stroke-width="0.18">10</text>
<text x="562.5" y="77.5" font-size="4.6" fill="#222" font-weight="bold" text-anchor="middle" transform="rotate(-90 562.5 77.5)"  stroke="#222" stroke-width="0.18">25</text>
<text x="562.5" y="84.5" font-size="4.6" fill="#222" font-weight="bold" text-anchor="middle" transform="rotate(-90 562.5 84.5)"  stroke="#222" stroke-width="0.18">3</text>
<path d="M563,69 l2,2 M563,79 l2,2" stroke="#222" stroke-width="0.6"/>
<text x="594.5" y="65.3" font-size="5.3" fill="#111" font-weight="normal" text-anchor="start" stroke="#111" stroke-width="0.12">- силиконова мазилка</text>
<text x="594.5" y="71.6" font-size="5.3" fill="#111" font-weight="normal" text-anchor="start" stroke="#111" stroke-width="0.12">- армирана с PVC мрежа шпакловка от теракол 0,2см</text>
<text x="594.5" y="77.9" font-size="5.3" fill="#111" font-weight="normal" text-anchor="start" stroke="#111" stroke-width="0.12">- дюбелирана и лепена топлоизолация мин.вата 10см по ЕЕ</text>
<text x="594.5" y="84.2" font-size="5.3" fill="#111" font-weight="normal" text-anchor="start" stroke="#111" stroke-width="0.12">- СЪЩЕСТВУВАЩА тухлена зидария 25см</text>
<text x="594.5" y="90.5" font-size="5.3" fill="#111" font-weight="normal" text-anchor="start" stroke="#111" stroke-width="0.12">- гипсова мазилка Racio 1000L+гипсова шпакловка</text>
<rect x="556.5" y="98.3" width="12.9" height="9.2" fill="url(#hx)" stroke="#222" stroke-width="0.8" />
<rect x="569.4" y="98.3" width="21.6" height="9.2" fill="url(#hd)" stroke="#222" stroke-width="0.8" />
<text x="594.5" y="105.5" font-size="5.3" fill="#111" font-weight="normal" text-anchor="start" stroke="#111" stroke-width="0.12">- Същ. стоманобетонови конструктивни елементи 25см</text>
<rect x="556.5" y="113.5" width="12.9" height="8.5" fill="url(#hpx)" stroke="#d77a86" stroke-width="0.6" />
<rect x="569.4" y="113.5" width="21.6" height="8.5" fill="url(#hp)" stroke="#d77a86" stroke-width="0.6" />
<text x="594.5" y="119.5" font-size="5.3" fill="#111" font-weight="normal" text-anchor="start" stroke="#111" stroke-width="0.12">- Нови стоманобетонови конструктивни елементи 25см</text>
<rect x="556.5" y="126.8" width="34.5" height="8.7" fill="#f2f2f2" stroke="#111" stroke-width="1.1" />
<text x="594.5" y="133.2" font-size="5.3" fill="#111" font-weight="normal" text-anchor="start" stroke="#111" stroke-width="0.12">- Същ. вътрешни тухлени зидове 12см и 25см</text>
<rect x="556.5" y="140.2" width="34.5" height="8.8" fill="#f2f2f2" stroke="#111" stroke-width="1.1" />
<text x="594.5" y="146.6" font-size="5.3" fill="#111" font-weight="normal" text-anchor="start" stroke="#111" stroke-width="0.12">- Същ. каменна зидария</text>
<rect x="556.5" y="155.3" width="34.5" height="3.4" fill="#7fa3b8" stroke="#5a8298" stroke-width="0.5" />
<line x1="557.5" y1="157.0" x2="590.0" y2="157.0" stroke="#fff" stroke-width="1.2" stroke-dasharray="1.2,0.9"/>
<text x="594.5" y="159.0" font-size="5.3" fill="#111" font-weight="normal" text-anchor="start" stroke="#111" stroke-width="0.12">- топлоизолация XPS</text>
<rect x="556.5" y="165.0" width="34.5" height="4.5" fill="#bdbfa6" stroke="#888" stroke-width="0.5" />
<rect x="557.0" y="165.5" width="17.8" height="3.5" fill="#dedcd0" stroke="none" stroke-width="1" />
<line x1="574.8" y1="165.0" x2="574.8" y2="169.5" stroke="#555" stroke-width="0.6" />
<text x="594.5" y="169.3" font-size="5.3" fill="#111" font-weight="normal" text-anchor="start" stroke="#111" stroke-width="0.12">- топлоизолация минерална/каменна вата</text>
<rect x="556.5" y="175.2" width="34.5" height="8.6" fill="url(#hb)" stroke="#6d8fc8" stroke-width="0.6" stroke-dasharray="1,1"/>
<text x="594.5" y="181.5" font-size="5.3" fill="#111" font-weight="normal" text-anchor="start" stroke="#111" stroke-width="0.12">- Тухлен зид, който отпада</text>
<rect x="556.5" y="189.0" width="34.5" height="9.2" fill="#d9826e" stroke="#111" stroke-width="1.1" />
<text x="594.5" y="195.6" font-size="5.3" fill="#111" font-weight="normal" text-anchor="start" stroke="#111" stroke-width="0.12">- Нов тухлен зид 12/25см</text>
<rect x="556.5" y="203.4" width="34.5" height="4.3" fill="#b9c2a8" stroke="#666" stroke-width="0.5" />
<line x1="556.5" y1="204.5" x2="575.0" y2="204.5" stroke="#4b7a4b" stroke-width="0.7" />
<text x="594.5" y="207.0" font-size="5.3" fill="#111" font-weight="normal" text-anchor="start" stroke="#111" stroke-width="0.12">- Предстенна обшивка от Гипсокартон за мокри и сухи пом.</text>
<text x="596.5" y="213.4" font-size="5.3" fill="#111" font-weight="normal" text-anchor="start" stroke="#111" stroke-width="0.12">топлоизолация минерална/каменна вата</text>
<rect x="556.5" y="221.2" width="34.5" height="9.5" fill="#fff" stroke="#777" stroke-width="0.5" />
<line x1="556.5" y1="224.4" x2="591.0" y2="224.4" stroke="#777" stroke-width="0.4" />
<line x1="556.5" y1="227.5" x2="591.0" y2="227.5" stroke="#777" stroke-width="0.4" />
<line x1="564.0" y1="221.2" x2="564.0" y2="224.4" stroke="#777" stroke-width="0.4" />
<line x1="564.0" y1="227.5" x2="564.0" y2="230.7" stroke="#777" stroke-width="0.4" />
<line x1="577.0" y1="221.2" x2="577.0" y2="224.4" stroke="#777" stroke-width="0.4" />
<line x1="577.0" y1="227.5" x2="577.0" y2="230.7" stroke="#777" stroke-width="0.4" />
<line x1="588.0" y1="221.2" x2="588.0" y2="224.4" stroke="#777" stroke-width="0.4" />
<line x1="588.0" y1="227.5" x2="588.0" y2="230.7" stroke="#777" stroke-width="0.4" />
<line x1="558.0" y1="224.4" x2="558.0" y2="227.5" stroke="#777" stroke-width="0.4" />
<line x1="570.0" y1="224.4" x2="570.0" y2="227.5" stroke="#777" stroke-width="0.4" />
<line x1="582.0" y1="224.4" x2="582.0" y2="227.5" stroke="#777" stroke-width="0.4" />
<text x="594.5" y="227.8" font-size="5.3" fill="#111" font-weight="normal" text-anchor="start" stroke="#111" stroke-width="0.12">- еко грийн бетонови паркинг елементи за настилка</text>
<rect x="552.2" y="235.6" width="73.3" height="27.3" fill="#fff" stroke="#999" stroke-width="0.6" />
<line x1="552.2" y1="242.5" x2="625.5" y2="242.5" stroke="#999" stroke-width="0.5" />
<line x1="552.2" y1="256.0" x2="625.5" y2="256.0" stroke="#999" stroke-width="0.5" />
<line x1="572.5" y1="242.5" x2="572.5" y2="256.0" stroke="#999" stroke-width="0.5" />
<line x1="572.5" y1="249.2" x2="625.5" y2="249.2" stroke="#999" stroke-width="0.5" />
<text x="553.5" y="241.0" font-size="5.2" fill="#222" font-weight="normal" text-anchor="start" >функция на помещение</text>
<text x="553.5" y="251.5" font-size="5.2" fill="#222" font-weight="normal" text-anchor="start" >№ пом.</text>
<text x="574.0" y="247.5" font-size="5.2" fill="#222" font-weight="normal" text-anchor="start" >▽к.готова настилка</text>
<text x="574.0" y="254.5" font-size="5.2" fill="#222" font-weight="normal" text-anchor="start" >▼к.конструкция</text>
<text x="553.5" y="261.5" font-size="5.2" fill="#222" font-weight="normal" text-anchor="start" >площ на помещение</text>
</svg></body></html>
